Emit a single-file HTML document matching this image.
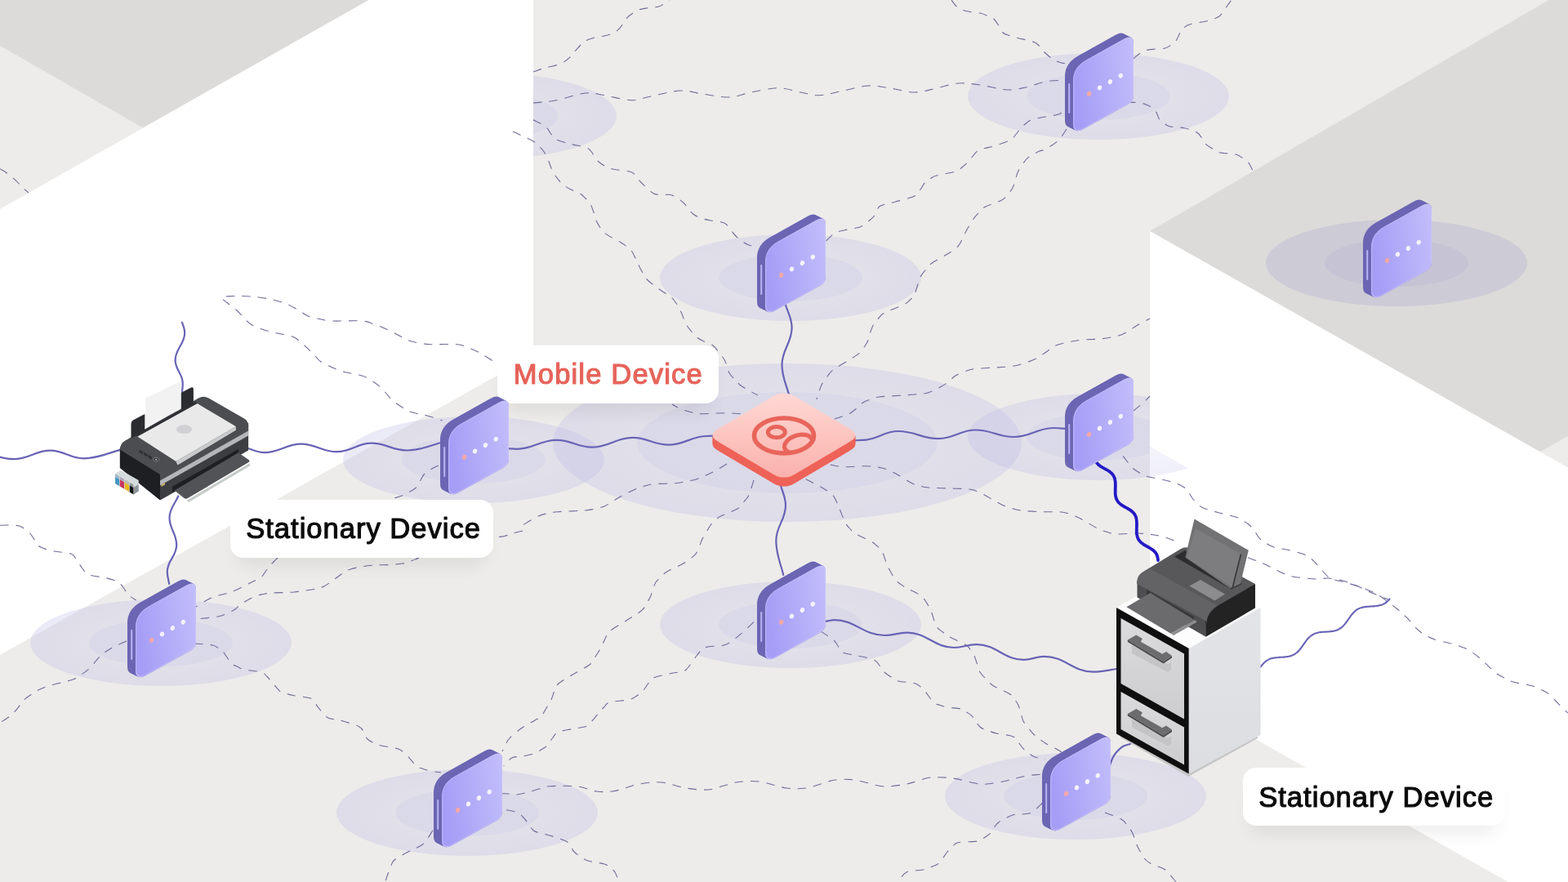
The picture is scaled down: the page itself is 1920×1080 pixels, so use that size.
<!DOCTYPE html>
<html lang="en"><head><meta charset="utf-8"><title>Mobile and Stationary Devices</title>
<style>
html,body{margin:0;padding:0;background:#edecea;overflow:hidden}
body{width:1920px;height:1080px}
svg{display:block;font-family:"Liberation Sans",sans-serif}
</style></head><body>
<svg width="1920" height="1080" viewBox="0 0 1920 1080">
<defs>
<linearGradient id="face" x1="0" y1=".15" x2="1" y2="0"><stop offset="0" stop-color="#a59df6"/><stop offset="1" stop-color="#c3befb"/></linearGradient>
<linearGradient id="tile" x1="0" y1="0" x2="0" y2="1"><stop offset="0" stop-color="#ffd8d4"/><stop offset="1" stop-color="#fab1ac"/></linearGradient>
<radialGradient id="ringO"><stop offset="0" stop-color="#bfbce6" stop-opacity=".25"/><stop offset=".55" stop-color="#bfbce6" stop-opacity=".25"/><stop offset="1" stop-color="#bfbce6" stop-opacity=".33"/></radialGradient>
<radialGradient id="ringI"><stop offset="0" stop-color="#bfbee6" stop-opacity=".2"/><stop offset="1" stop-color="#bfbee6" stop-opacity=".2"/></radialGradient>
<linearGradient id="cabR" x1="0" y1="0" x2="0" y2="1"><stop offset="0" stop-color="#e3e4e7"/><stop offset="1" stop-color="#dcdde0"/></linearGradient>
<linearGradient id="drw" x1="0" y1="0" x2="0" y2="1"><stop offset="0" stop-color="#dbdbdd"/><stop offset="1" stop-color="#cdcdcf"/></linearGradient>
<clipPath id="cLeftTop"><rect x="653" y="0" width="400" height="400"/></clipPath>
<clipPath id="cRightMid"><rect x="1100" y="400" width="308" height="300"/></clipPath>
<clipPath id="cRightWedge"><polygon points="1408,546.700 1500,598.800 1500,700 1408,700"/></clipPath>
<clipPath id="iconclip"><ellipse cx="960" cy="533.5" rx="38" ry="23"/></clipPath>
<filter id="sh" x="-20%" y="-60%" width="140%" height="260%"><feGaussianBlur stdDeviation="10.5"/></filter>
</defs>
<rect width="1920" height="1080" fill="#edecea"/>
<polygon points="0,0 452,0 175,156.4 0,56.1" fill="#dcdbda"/>
<polygon points="451.5,0 653,0 653,435 0,802 0,256" fill="#fff"/>
<polygon points="1408,283 1896.5,0 1920,0 1920,573" fill="#dcdbda"/>
<polygon points="1886.3,553 1920,534 1920,573" fill="#edecea"/>
<polygon points="1408,283 1920,572.4 1920,1080 1846.7,1080 1408,832" fill="#fff"/>
<g clip-path="url(#cLeftTop)"><ellipse cx="595" cy="142" rx="160" ry="53" fill="url(#ringO)"/><ellipse cx="595" cy="142" rx="88" ry="29" fill="url(#ringI)"/></g>
<g><ellipse cx="1345" cy="118" rx="160" ry="53" fill="url(#ringO)"/><ellipse cx="1345" cy="118" rx="88" ry="29" fill="url(#ringI)"/></g>
<g><ellipse cx="968" cy="340" rx="160" ry="53" fill="url(#ringO)"/><ellipse cx="968" cy="340" rx="88" ry="29" fill="url(#ringI)"/></g>
<g><ellipse cx="1710" cy="322" rx="160" ry="53" fill="#a8a5cc" fill-opacity=".3"/><ellipse cx="1710" cy="322" rx="88" ry="29" fill="#a8a5cc" fill-opacity=".2"/></g>
<g><ellipse cx="580" cy="563" rx="160" ry="53" fill="url(#ringO)"/><ellipse cx="580" cy="563" rx="88" ry="29" fill="url(#ringI)"/></g>
<g clip-path="url(#cRightMid)"><ellipse cx="1345" cy="535" rx="160" ry="53" fill="url(#ringO)"/><ellipse cx="1345" cy="535" rx="88" ry="29" fill="url(#ringI)"/></g>
<g clip-path="url(#cRightWedge)" opacity=".7"><ellipse cx="1345" cy="535" rx="160" ry="53" fill="url(#ringO)"/></g>
<g><ellipse cx="197" cy="787" rx="160" ry="53" fill="url(#ringO)"/><ellipse cx="197" cy="787" rx="88" ry="29" fill="url(#ringI)"/></g>
<g><ellipse cx="968" cy="765" rx="160" ry="53" fill="url(#ringO)"/><ellipse cx="968" cy="765" rx="88" ry="29" fill="url(#ringI)"/></g>
<g><ellipse cx="572" cy="995" rx="160" ry="53" fill="url(#ringO)"/><ellipse cx="572" cy="995" rx="88" ry="29" fill="url(#ringI)"/></g>
<g><ellipse cx="1317" cy="975" rx="160" ry="53" fill="url(#ringO)"/><ellipse cx="1317" cy="975" rx="88" ry="29" fill="url(#ringI)"/></g>
<g><ellipse cx="964" cy="542" rx="287" ry="97" fill="url(#ringO)"/><ellipse cx="964" cy="542" rx="184" ry="62" fill="url(#ringI)"/></g>
<g fill="none" stroke="#6f6c98" stroke-width="1.1" stroke-dasharray="10.5 9">
<path d="M0.0,206.7 C1.7,207.8 6.7,210.5 10.0,213.0 C13.3,215.5 17.0,218.9 20.0,221.7 C23.0,224.5 25.5,227.6 28.0,230.0 C30.5,232.4 33.8,235.0 35.0,236.0"/>
<path d="M653.0,88.0 C655.5,87.2 662.4,84.7 668.0,83.0 C673.6,81.3 681.7,80.2 686.7,78.0 C691.7,75.8 695.0,72.7 698.0,70.0 C701.0,67.3 702.8,64.2 705.0,61.7 C707.2,59.2 709.0,57.0 711.0,55.0 C713.0,53.0 713.9,51.5 716.7,50.0 C719.5,48.5 724.1,47.0 728.0,46.0 C731.9,45.0 736.3,44.8 740.0,44.0 C743.7,43.2 747.2,42.2 750.0,41.0 C752.8,39.8 754.5,38.7 756.7,36.7 C758.9,34.7 761.1,31.5 763.0,29.0 C764.9,26.5 766.0,23.9 768.0,21.7 C770.0,19.5 772.5,17.7 775.0,16.0 C777.5,14.3 779.7,12.8 783.0,11.7 C786.3,10.6 791.0,10.1 795.0,9.5 C799.0,8.9 803.5,8.9 806.7,8.0 C809.9,7.1 811.8,5.3 814.0,4.0 C816.2,2.7 819.0,0.7 820.0,0.0"/>
<path d="M653.0,126.0 C657.5,125.5 669.4,125.0 680.0,123.0 C690.6,121.0 706.7,115.0 716.7,114.0 C726.7,113.0 730.6,115.2 740.0,116.7 C749.4,118.2 763.5,122.5 773.0,122.7 C782.5,122.9 786.7,120.0 796.7,118.0 C806.7,116.0 822.5,111.5 833.0,111.0 C843.5,110.5 850.0,113.7 860.0,115.0 C870.0,116.3 883.0,119.3 893.0,119.0 C903.0,118.7 910.0,114.9 920.0,113.0 C930.0,111.1 943.0,107.7 953.0,107.7 C963.0,107.7 971.7,111.5 980.0,113.0 C988.3,114.5 994.7,116.9 1003.0,116.7 C1011.3,116.5 1020.0,113.7 1030.0,111.7 C1040.0,109.8 1053.0,105.6 1063.0,105.0 C1073.0,104.4 1080.5,106.7 1090.0,108.0 C1099.5,109.3 1110.5,113.0 1120.0,113.0 C1129.5,113.0 1137.9,109.8 1146.7,108.0 C1155.5,106.2 1164.1,102.7 1173.0,102.0 C1181.9,101.3 1190.0,102.7 1200.0,104.0 C1210.0,105.3 1223.5,109.5 1233.0,110.0 C1242.5,110.5 1248.9,108.4 1256.7,106.7 C1264.5,105.0 1272.0,101.5 1280.0,100.0 C1288.0,98.5 1300.8,98.3 1305.0,98.0"/>
<path d="M653.0,146.7 C655.5,148.1 664.5,152.3 668.0,155.0 C671.5,157.7 672.0,160.5 674.0,163.0 C676.0,165.5 677.3,168.2 680.0,170.0 C682.7,171.8 686.7,172.9 690.0,174.0 C693.3,175.1 695.0,175.4 700.0,176.7 C705.0,178.0 715.5,179.5 720.0,181.7 C724.5,183.9 724.8,187.3 727.0,190.0 C729.2,192.7 730.7,195.8 733.0,198.0 C735.3,200.2 738.2,202.0 741.0,203.5 C743.8,205.0 744.7,205.8 750.0,207.0 C755.3,208.2 768.0,208.9 773.0,210.7 C778.0,212.5 777.7,215.6 780.0,218.0 C782.3,220.4 783.4,221.9 786.7,225.0 C790.0,228.1 796.0,234.4 800.0,236.7 C804.0,238.9 807.2,238.1 811.0,238.5 C814.8,238.9 818.7,237.4 823.0,239.0 C827.3,240.6 833.4,245.2 836.7,248.0 C840.0,250.8 840.8,253.5 843.0,256.0 C845.2,258.5 847.2,261.1 850.0,263.0 C852.8,264.9 856.7,266.3 860.0,267.5 C863.3,268.7 865.5,269.1 870.0,270.0 C874.5,270.9 882.7,271.2 886.7,273.0 C890.7,274.8 891.8,278.0 894.0,280.5 C896.2,283.0 897.7,285.6 900.0,288.0 C902.3,290.4 905.2,293.0 908.0,295.0 C910.8,297.0 913.5,298.8 916.7,300.0 C919.9,301.2 925.3,301.7 927.0,302.0"/>
<path d="M628.0,161.0 C630.0,161.9 635.8,164.7 640.0,166.7 C644.2,168.7 649.7,170.9 653.0,173.0 C656.3,175.1 657.7,176.7 660.0,179.0 C662.3,181.3 664.7,183.5 666.7,186.7 C668.7,189.9 670.3,194.1 672.0,198.0 C673.7,201.9 674.9,206.5 676.7,210.0 C678.5,213.5 680.8,216.2 683.0,219.0 C685.2,221.8 687.2,224.4 690.0,226.7 C692.8,228.9 696.7,230.8 700.0,232.5 C703.3,234.2 707.2,234.9 710.0,236.7 C712.8,238.4 714.8,240.8 717.0,243.0 C719.2,245.2 721.3,247.2 723.0,250.0 C724.7,252.8 725.8,256.7 727.0,260.0 C728.2,263.3 728.8,267.0 730.0,270.0 C731.2,273.0 732.8,275.5 734.5,278.0 C736.2,280.5 737.4,282.8 740.0,285.0 C742.6,287.2 746.7,289.6 750.0,291.5 C753.3,293.4 757.2,295.0 760.0,296.7 C762.8,298.4 764.8,299.8 767.0,301.5 C769.2,303.2 771.1,304.1 773.0,306.7 C774.9,309.3 776.8,313.7 778.5,317.0 C780.2,320.3 781.4,323.6 783.0,326.7 C784.6,329.8 786.3,332.8 788.0,335.5 C789.7,338.2 790.5,340.4 793.0,343.0 C795.5,345.6 799.7,348.5 803.0,351.0 C806.3,353.5 810.2,356.2 813.0,358.0 C815.8,359.8 817.7,359.7 820.0,361.7 C822.3,363.7 824.8,366.9 827.0,370.0 C829.2,373.1 830.8,375.6 833.0,380.0 C835.2,384.4 837.8,392.5 840.0,396.7 C842.2,400.9 843.8,402.3 846.0,405.0 C848.2,407.7 850.2,410.8 853.0,413.0 C855.8,415.2 859.7,416.8 863.0,418.5 C866.3,420.2 870.2,420.9 873.0,423.0 C875.8,425.1 877.7,428.2 880.0,431.0 C882.3,433.8 885.0,437.2 886.7,440.0 C888.4,442.8 889.0,445.2 890.0,448.0 C891.0,450.8 891.4,453.9 893.0,456.7 C894.6,459.4 897.2,462.0 899.5,464.5 C901.8,467.0 903.8,469.4 906.7,471.7 C909.6,473.9 913.5,475.9 917.0,478.0 C920.5,480.1 926.2,483.0 928.0,484.0"/>
<path d="M1165.0,0.0 C1165.8,1.1 1168.0,4.5 1170.0,6.5 C1172.0,8.4 1173.7,10.4 1176.7,11.7 C1179.7,13.0 1184.1,13.8 1188.0,14.5 C1191.9,15.2 1196.6,15.2 1200.0,16.0 C1203.4,16.8 1205.7,17.8 1208.5,19.0 C1211.3,20.2 1214.3,20.9 1216.7,23.0 C1219.1,25.1 1221.1,28.7 1223.0,31.5 C1224.9,34.3 1225.7,37.9 1228.0,40.0 C1230.3,42.1 1233.9,42.9 1237.0,44.0 C1240.1,45.1 1241.8,45.4 1246.7,46.7 C1251.7,48.0 1262.2,49.8 1266.7,51.7 C1271.2,53.6 1271.8,55.8 1274.0,58.0 C1276.2,60.2 1277.3,62.5 1280.0,65.0 C1282.7,67.5 1286.7,71.0 1290.0,73.0 C1293.3,75.0 1296.2,76.0 1300.0,77.0 C1303.8,78.0 1310.8,78.7 1313.0,79.0"/>
<path d="M1011.7,295.0 C1013.6,293.3 1018.6,287.3 1023.0,285.0 C1027.4,282.7 1033.0,282.2 1038.0,281.0 C1043.0,279.8 1049.0,279.5 1053.0,278.0 C1057.0,276.5 1059.2,274.2 1062.0,272.0 C1064.8,269.8 1067.5,268.2 1070.0,265.0 C1072.5,261.8 1074.0,255.6 1076.7,253.0 C1079.4,250.4 1082.7,250.5 1086.0,249.5 C1089.3,248.5 1091.0,248.6 1096.7,247.0 C1102.4,245.4 1115.0,242.5 1120.0,240.0 C1125.0,237.5 1124.8,234.8 1127.0,232.0 C1129.2,229.2 1130.9,225.2 1133.0,223.0 C1135.1,220.8 1137.2,219.8 1139.5,218.5 C1141.8,217.2 1141.6,216.4 1146.7,215.0 C1151.8,213.6 1164.6,211.8 1170.0,210.0 C1175.4,208.2 1176.2,206.2 1179.0,204.0 C1181.8,201.8 1183.8,199.9 1186.7,196.7 C1189.7,193.5 1193.5,187.5 1196.7,185.0 C1199.9,182.5 1202.7,182.5 1206.0,181.5 C1209.3,180.5 1211.6,180.6 1216.7,179.0 C1221.8,177.4 1232.2,174.1 1236.7,171.7 C1241.2,169.3 1241.8,167.0 1244.0,164.5 C1246.2,162.0 1247.9,158.9 1250.0,156.7 C1252.1,154.4 1254.3,152.7 1256.5,151.0 C1258.7,149.3 1259.1,148.0 1263.0,146.7 C1266.9,145.4 1274.5,144.1 1280.0,143.0 C1285.5,141.9 1291.7,141.5 1296.0,140.0 C1300.3,138.5 1304.3,135.0 1306.0,134.0"/>
<path d="M1306.0,158.0 C1304.3,160.3 1300.3,167.9 1296.0,172.0 C1291.7,176.1 1283.8,180.5 1280.0,182.7 C1276.2,184.9 1275.6,183.9 1273.0,185.0 C1270.4,186.1 1267.2,187.8 1264.5,189.5 C1261.8,191.2 1259.7,191.6 1256.7,195.0 C1253.7,198.4 1248.9,205.8 1246.7,210.0 C1244.5,214.2 1244.6,216.7 1243.5,220.0 C1242.4,223.3 1241.6,227.0 1240.0,230.0 C1238.4,233.0 1236.2,235.5 1234.0,238.0 C1231.8,240.5 1231.2,242.5 1226.7,245.0 C1222.2,247.5 1211.2,250.6 1206.7,253.0 C1202.2,255.4 1201.8,257.2 1199.5,259.5 C1197.2,261.8 1195.8,262.8 1193.0,266.7 C1190.2,270.6 1185.4,278.7 1183.0,283.0 C1180.6,287.3 1180.2,289.4 1178.5,292.5 C1176.8,295.6 1175.2,299.1 1173.0,301.7 C1170.8,304.3 1167.7,306.1 1165.0,308.0 C1162.3,309.9 1160.9,310.5 1156.7,313.0 C1152.5,315.5 1144.0,320.0 1140.0,323.0 C1136.0,326.0 1135.2,328.2 1133.0,331.0 C1130.8,333.8 1128.9,335.2 1126.7,340.0 C1124.5,344.8 1122.1,355.4 1120.0,360.0 C1117.9,364.6 1116.2,365.3 1114.0,367.5 C1111.8,369.7 1111.9,370.4 1106.7,373.0 C1101.5,375.6 1088.1,380.2 1083.0,383.0 C1077.9,385.8 1078.2,387.2 1076.0,389.5 C1073.8,391.8 1071.7,393.9 1070.0,396.7 C1068.3,399.4 1067.2,402.7 1066.0,406.0 C1064.8,409.3 1064.2,413.6 1063.0,416.7 C1061.8,419.8 1060.2,422.0 1058.5,424.5 C1056.8,427.0 1055.2,429.5 1053.0,431.7 C1050.8,433.9 1047.7,435.7 1045.0,437.5 C1042.3,439.3 1040.9,440.1 1036.7,442.7 C1032.5,445.3 1024.0,449.9 1020.0,453.0 C1016.0,456.1 1015.2,458.2 1013.0,461.0 C1010.8,463.8 1008.4,467.0 1006.7,470.0 C1005.0,473.0 1004.1,475.8 1003.0,479.0 C1001.9,482.2 1000.5,487.3 1000.0,489.0"/>
<path d="M1388.0,71.7 C1389.2,70.8 1392.5,67.7 1395.0,66.0 C1397.5,64.3 1399.7,62.7 1403.0,61.7 C1406.3,60.7 1411.0,60.5 1415.0,60.0 C1419.0,59.5 1423.5,59.8 1426.7,59.0 C1429.9,58.2 1431.8,56.5 1434.0,55.0 C1436.2,53.5 1437.9,53.0 1440.0,50.0 C1442.1,47.0 1444.9,39.5 1446.7,36.7 C1448.5,33.9 1449.3,34.1 1451.0,33.0 C1452.7,31.9 1452.4,31.2 1456.7,30.0 C1461.0,28.8 1472.0,27.1 1476.7,26.0 C1481.4,24.9 1482.3,24.5 1485.0,23.5 C1487.7,22.5 1490.8,21.7 1493.0,20.0 C1495.2,18.3 1496.8,15.7 1498.5,13.5 C1500.2,11.3 1501.4,8.9 1503.0,6.7 C1504.6,4.5 1507.2,1.1 1508.0,0.0"/>
<path d="M1380.0,125.0 C1382.8,125.2 1392.5,125.3 1396.7,126.0 C1401.0,126.7 1402.8,127.8 1405.5,129.0 C1408.2,130.2 1411.1,131.2 1413.0,133.0 C1414.9,134.8 1415.8,137.7 1417.0,140.0 C1418.2,142.3 1418.5,144.8 1420.0,146.7 C1421.5,148.6 1423.8,150.1 1426.0,151.5 C1428.2,152.9 1429.0,154.1 1433.0,155.0 C1437.0,155.9 1445.8,155.9 1450.0,156.7 C1454.2,157.4 1455.7,158.4 1458.5,159.5 C1461.3,160.6 1464.5,161.3 1466.7,163.0 C1469.0,164.7 1470.3,167.2 1472.0,169.5 C1473.7,171.8 1474.6,174.6 1476.7,176.7 C1478.8,178.8 1481.8,180.3 1484.5,182.0 C1487.2,183.7 1488.2,185.5 1493.0,186.7 C1497.8,187.9 1508.5,188.0 1513.0,189.0 C1517.5,190.0 1517.7,191.2 1520.0,192.5 C1522.3,193.8 1525.0,195.1 1526.7,196.7 C1528.5,198.3 1529.3,199.9 1530.5,202.0 C1531.7,204.1 1533.4,207.8 1534.0,209.0"/>
<path d="M276.7,363.0 C279.9,362.9 289.3,362.3 296.0,362.5 C302.7,362.7 310.4,363.2 316.7,364.0 C323.0,364.8 328.4,365.7 334.0,367.0 C339.6,368.3 345.0,369.7 350.0,371.7 C355.0,373.7 359.6,376.5 364.0,379.0 C368.4,381.5 372.2,384.8 376.7,386.7 C381.2,388.6 386.0,389.4 391.0,390.5 C396.0,391.6 398.0,392.6 406.7,393.0 C415.4,393.4 434.4,392.3 443.0,393.0 C451.6,393.7 453.0,395.3 458.0,397.0 C463.0,398.7 468.2,400.8 473.0,403.0 C477.8,405.2 482.5,407.7 487.0,410.0 C491.5,412.3 495.7,415.0 500.0,416.7 C504.3,418.4 508.6,419.2 513.0,420.0 C517.5,420.8 518.9,421.4 526.7,421.7 C534.5,422.0 552.1,421.0 560.0,421.7 C567.9,422.4 569.5,424.3 574.0,426.0 C578.5,427.7 581.9,429.1 586.7,431.7 C591.5,434.3 599.3,439.3 603.0,441.7 C606.7,444.1 608.0,445.3 609.0,446.0"/>
<path d="M273.0,366.7 C274.3,367.8 278.2,370.8 281.0,373.0 C283.8,375.2 287.2,377.4 290.0,380.0 C292.8,382.6 295.2,385.7 298.0,388.5 C300.8,391.3 303.2,394.4 306.7,396.7 C310.2,399.0 314.6,400.8 319.0,402.5 C323.4,404.2 328.3,405.5 333.0,406.7 C337.7,407.9 342.5,408.4 347.0,409.5 C351.5,410.6 356.3,411.3 360.0,413.0 C363.7,414.7 366.2,417.2 369.0,419.5 C371.8,421.8 374.0,424.1 376.7,426.7 C379.4,429.3 382.3,432.3 385.0,435.0 C387.7,437.7 389.5,440.6 393.0,443.0 C396.5,445.4 401.5,447.5 406.0,449.5 C410.5,451.5 413.8,453.2 420.0,455.0 C426.2,456.8 437.4,458.3 443.0,460.0 C448.6,461.7 450.2,463.1 453.5,465.0 C456.8,466.9 459.9,469.1 463.0,471.7 C466.1,474.3 469.2,477.4 472.0,480.5 C474.8,483.6 477.0,487.2 480.0,490.0 C483.0,492.8 486.7,494.8 490.0,497.0 C493.3,499.2 496.5,501.4 500.0,503.0 C503.5,504.6 507.2,505.5 511.0,506.5 C514.8,507.5 517.9,507.6 523.0,509.0 C528.1,510.4 538.6,514.0 541.7,515.0"/>
<path d="M0.0,643.3 C2.0,643.2 8.1,642.9 12.0,643.0 C15.9,643.1 20.2,643.2 23.3,644.0 C26.4,644.8 28.3,646.5 30.5,648.0 C32.7,649.5 34.8,650.9 36.7,653.0 C38.6,655.1 40.3,658.0 42.0,660.5 C43.7,663.0 44.4,666.0 46.7,668.0 C49.0,670.0 52.7,671.3 56.0,672.5 C59.3,673.7 61.6,674.1 66.7,675.0 C71.8,675.9 82.4,676.6 86.7,678.0 C91.0,679.4 90.8,681.5 92.5,683.5 C94.2,685.5 95.2,687.8 96.7,690.0 C98.2,692.2 99.8,694.8 101.5,697.0 C103.2,699.2 104.3,701.6 106.7,703.0 C109.1,704.4 112.7,704.8 116.0,705.5 C119.3,706.2 122.2,706.0 126.7,707.0 C131.2,708.0 139.1,709.9 143.0,711.7 C146.9,713.5 147.7,715.3 150.0,718.0 C152.3,720.7 153.9,725.2 156.7,728.0 C159.5,730.8 165.0,733.8 166.7,735.0"/>
<path d="M536.7,570.0 C535.2,570.8 530.8,572.8 528.0,574.5 C525.2,576.2 522.2,577.8 520.0,580.0 C517.8,582.2 516.7,585.2 515.0,588.0 C513.3,590.8 512.2,594.4 510.0,596.7 C507.8,599.0 504.8,600.3 502.0,602.0 C499.2,603.7 496.7,605.2 493.0,606.7 C489.3,608.2 482.2,610.0 480.0,610.7"/>
<path d="M340.0,683.0 C339.2,683.8 336.7,686.3 335.0,688.0 C333.3,689.7 331.7,691.0 330.0,693.0 C328.3,695.0 326.7,697.7 325.0,700.0 C323.3,702.3 322.5,704.7 320.0,706.7 C317.5,708.7 313.3,710.3 310.0,712.0 C306.7,713.7 304.5,714.8 300.0,717.0 C295.5,719.2 288.0,723.1 283.0,725.0 C278.0,726.9 274.4,727.2 270.0,728.5 C265.6,729.8 261.7,730.6 256.7,733.0 C251.7,735.4 242.8,741.3 240.0,743.0"/>
<path d="M640.0,650.0 C638.0,650.5 631.9,651.9 628.0,653.0 C624.1,654.1 620.9,655.9 616.7,656.7 C612.5,657.5 605.3,657.8 603.0,658.0"/>
<path d="M513.0,683.0 C511.3,683.7 506.3,685.8 503.0,687.0 C499.7,688.2 497.3,689.2 493.0,690.0 C488.7,690.8 482.5,691.2 477.0,691.5 C471.5,691.8 465.3,691.7 460.0,692.0 C454.7,692.3 450.0,692.7 445.0,693.5 C440.0,694.3 434.0,695.5 430.0,696.7 C426.0,698.0 423.8,699.3 421.0,701.0 C418.2,702.7 415.8,704.7 413.0,706.7 C410.2,708.7 407.2,711.1 404.5,713.0 C401.8,714.9 399.1,716.8 396.7,718.0 C394.3,719.2 392.3,719.4 390.0,720.0 C387.7,720.6 388.0,720.9 383.0,721.7 C378.0,722.5 368.3,724.3 360.0,725.0 C351.7,725.7 339.2,725.6 333.0,726.0 C326.8,726.4 325.8,726.8 322.5,727.5 C319.2,728.2 316.8,728.5 313.0,730.0 C309.2,731.5 303.3,734.8 300.0,736.7 C296.7,738.6 295.2,739.8 293.0,741.5 C290.8,743.2 289.4,745.0 286.7,746.7 C284.0,748.4 280.3,750.1 277.0,751.5 C273.7,752.9 272.9,753.9 266.7,755.0 C260.5,756.1 244.4,757.5 240.0,758.0"/>
<path d="M1021.7,513.0 C1023.2,512.5 1028.0,511.1 1031.0,510.0 C1034.0,508.9 1037.0,508.4 1040.0,506.7 C1043.0,505.0 1046.2,502.3 1049.0,500.0 C1051.8,497.7 1053.9,494.8 1056.7,493.0 C1059.5,491.2 1062.7,490.2 1066.0,489.0 C1069.3,487.8 1069.9,486.8 1076.7,486.0 C1083.5,485.2 1099.5,484.5 1106.7,484.0 C1113.9,483.5 1115.6,483.4 1120.0,483.0 C1124.4,482.6 1129.1,482.5 1133.0,481.7 C1136.9,480.9 1140.2,479.4 1143.5,478.0 C1146.8,476.6 1149.9,474.8 1153.0,473.0 C1156.1,471.2 1159.2,469.2 1162.0,467.0 C1164.8,464.8 1166.8,462.0 1170.0,460.0 C1173.2,458.0 1177.2,456.4 1181.0,455.0 C1184.8,453.6 1186.5,452.5 1193.0,451.7 C1199.5,450.9 1213.2,450.4 1220.0,450.0 C1226.8,449.6 1229.0,449.5 1233.5,449.0 C1238.0,448.5 1241.2,448.5 1246.7,447.0 C1252.2,445.5 1261.2,442.6 1266.7,440.0 C1272.2,437.4 1276.5,434.0 1280.0,431.7 C1283.5,429.4 1285.2,427.7 1288.0,426.0 C1290.8,424.3 1291.4,423.2 1296.7,421.7 C1302.0,420.1 1311.7,417.8 1320.0,416.7 C1328.3,415.6 1340.0,415.6 1346.7,415.0 C1353.4,414.4 1355.6,413.8 1360.0,413.0 C1364.4,412.2 1369.2,411.4 1373.0,410.0 C1376.8,408.6 1379.7,406.5 1383.0,404.5 C1386.3,402.5 1388.8,400.4 1393.0,398.0 C1397.2,395.6 1405.5,391.3 1408.0,390.0"/>
<path d="M906.7,506.7 C903.4,506.5 894.5,505.7 886.7,505.7 C878.9,505.7 866.2,506.7 860.0,506.7 C853.8,506.7 852.8,506.1 849.5,505.5 C846.2,504.9 843.1,504.0 840.0,503.0 C836.9,502.0 833.8,500.8 831.0,499.5 C828.2,498.2 824.3,495.8 823.0,495.0"/>
<path d="M890.0,568.0 C887.2,569.7 877.5,575.6 873.0,578.0 C868.5,580.4 866.3,581.0 863.0,582.5 C859.7,584.0 856.8,585.5 853.0,586.7 C849.2,587.9 844.4,588.7 840.0,589.5 C835.6,590.3 833.4,591.2 826.7,591.7 C820.0,592.2 806.1,592.2 800.0,592.7 C793.9,593.2 793.3,594.1 790.0,595.0 C786.7,595.9 785.0,595.8 780.0,598.0 C775.0,600.2 765.0,605.3 760.0,608.0 C755.0,610.7 753.3,612.0 750.0,614.0 C746.7,616.0 743.6,618.5 740.0,620.0 C736.4,621.5 732.4,622.2 728.5,623.0 C724.6,623.8 724.3,624.4 716.7,625.0 C709.1,625.6 690.5,626.1 683.0,626.7 C675.5,627.3 675.3,627.7 671.5,628.5 C667.7,629.3 665.2,629.3 660.0,631.7 C654.8,634.1 643.3,641.1 640.0,643.0"/>
<path d="M923.0,588.0 C922.5,589.6 921.0,594.4 920.0,597.5 C919.0,600.6 918.3,603.8 916.7,606.7 C915.1,609.6 912.8,612.3 910.5,615.0 C908.2,617.7 907.6,620.2 903.0,623.0 C898.4,625.8 887.5,629.4 883.0,631.7 C878.5,634.0 878.2,635.1 876.0,637.0 C873.8,638.9 871.8,640.6 870.0,643.0 C868.2,645.4 866.7,648.7 865.0,651.5 C863.3,654.3 862.0,655.8 860.0,660.0 C858.0,664.2 855.4,672.7 853.0,676.7 C850.6,680.7 848.2,681.8 845.5,684.0 C842.8,686.2 841.5,687.3 836.7,690.0 C831.9,692.7 821.2,697.3 816.7,700.0 C812.2,702.7 811.8,703.8 809.5,706.0 C807.2,708.2 804.6,710.7 803.0,713.0 C801.4,715.3 801.0,717.2 800.0,720.0 C799.0,722.8 798.0,726.9 796.7,730.0 C795.4,733.1 793.7,735.7 792.0,738.5 C790.3,741.3 789.2,744.2 786.7,746.7 C784.2,749.2 780.3,751.3 777.0,753.5 C773.7,755.7 771.8,756.8 766.7,760.0 C761.7,763.2 751.0,769.3 746.7,773.0 C742.4,776.7 742.7,778.9 741.0,782.0 C739.3,785.1 738.5,788.3 736.7,791.7 C734.9,795.1 732.3,799.0 730.0,802.5 C727.7,806.0 726.0,810.1 723.0,813.0 C720.0,815.9 715.8,817.7 712.0,820.0 C708.2,822.3 704.8,823.7 700.0,826.7 C695.2,829.7 686.6,834.6 683.0,838.0 C679.4,841.4 679.8,843.9 678.5,847.0 C677.2,850.1 676.6,853.4 675.0,856.7 C673.4,860.0 671.0,863.7 669.0,867.0 C667.0,870.3 665.3,874.2 663.0,876.7 C660.7,879.2 657.7,880.3 655.0,882.0 C652.3,883.7 649.8,884.9 646.7,886.7 C643.7,888.5 640.7,890.0 636.7,893.0 C632.8,896.0 626.6,900.5 623.0,905.0 C619.4,909.5 616.3,917.5 615.0,920.0"/>
<path d="M986.7,586.7 C989.4,588.1 998.8,592.7 1003.0,595.0 C1007.2,597.3 1009.2,598.5 1012.0,600.5 C1014.8,602.5 1017.9,604.4 1020.0,606.7 C1022.1,609.0 1023.2,611.8 1024.5,614.5 C1025.8,617.2 1026.2,618.8 1028.0,623.0 C1029.8,627.2 1032.9,636.0 1035.0,640.0 C1037.1,644.0 1038.5,644.8 1040.5,647.0 C1042.5,649.2 1042.3,650.3 1046.7,653.0 C1051.1,655.7 1062.2,660.4 1066.7,663.0 C1071.2,665.6 1071.8,666.5 1074.0,668.5 C1076.2,670.5 1078.4,672.4 1080.0,675.0 C1081.6,677.6 1082.4,681.0 1083.5,684.0 C1084.6,687.0 1084.5,688.7 1086.7,693.0 C1088.9,697.3 1093.4,705.8 1096.7,710.0 C1100.0,714.2 1104.0,716.0 1106.7,718.0 C1109.4,720.0 1110.5,720.4 1113.0,721.7 C1115.5,723.0 1119.2,724.3 1122.0,726.0 C1124.8,727.7 1127.8,729.5 1130.0,731.7 C1132.2,734.0 1133.8,736.8 1135.5,739.5 C1137.2,742.2 1138.1,743.5 1140.0,748.0 C1141.9,752.5 1144.3,762.4 1146.7,766.7 C1149.1,771.0 1151.8,771.8 1154.5,774.0 C1157.2,776.2 1158.2,777.3 1163.0,780.0 C1167.8,782.7 1178.8,787.3 1183.0,790.0 C1187.2,792.7 1186.8,793.8 1188.5,796.0 C1190.2,798.2 1191.7,800.2 1193.0,803.0 C1194.3,805.8 1195.3,809.7 1196.5,813.0 C1197.7,816.3 1198.1,819.8 1200.0,823.0 C1201.9,826.2 1205.2,829.2 1208.0,832.0 C1210.8,834.8 1211.9,837.0 1216.7,840.0 C1221.5,843.0 1232.5,847.3 1236.7,850.0 C1240.9,852.7 1240.3,853.8 1242.0,856.0 C1243.7,858.2 1245.4,860.2 1246.7,863.0 C1248.0,865.8 1249.0,869.7 1250.0,873.0 C1251.0,876.3 1251.4,879.8 1253.0,883.0 C1254.6,886.2 1257.2,889.2 1259.5,892.0 C1261.8,894.8 1263.3,897.0 1266.7,900.0 C1270.1,903.0 1275.6,907.2 1280.0,910.0 C1284.4,912.8 1289.7,914.9 1293.0,916.7 C1296.3,918.5 1298.8,920.3 1300.0,921.0"/>
<path d="M1016.7,569.0 C1019.4,569.5 1025.8,571.4 1033.0,571.7 C1040.2,572.0 1052.2,570.5 1060.0,570.7 C1067.8,570.9 1074.9,572.0 1080.0,573.0 C1085.1,574.0 1087.2,575.5 1090.5,577.0 C1093.8,578.5 1095.6,579.2 1100.0,581.7 C1104.4,584.2 1112.3,589.5 1116.7,591.7 C1121.1,593.9 1123.2,594.1 1126.5,595.0 C1129.8,595.9 1130.6,596.5 1136.7,597.0 C1142.8,597.5 1154.7,597.7 1163.0,598.0 C1171.3,598.3 1181.0,598.3 1186.7,599.0 C1192.4,599.7 1193.7,600.7 1197.0,602.0 C1200.3,603.3 1201.8,604.0 1206.7,606.7 C1211.7,609.4 1221.5,615.5 1226.7,618.0 C1231.9,620.5 1234.1,620.8 1238.0,622.0 C1241.9,623.2 1244.2,624.2 1250.0,625.0 C1255.8,625.8 1264.7,626.4 1273.0,626.7 C1281.3,627.0 1293.5,626.4 1300.0,627.0 C1306.5,627.6 1308.2,629.2 1312.0,630.5 C1315.8,631.8 1317.8,632.3 1323.0,635.0 C1328.2,637.7 1337.8,644.0 1343.0,646.7 C1348.2,649.4 1350.5,649.8 1354.5,651.0 C1358.5,652.2 1360.3,653.7 1366.7,654.0 C1373.1,654.3 1385.3,652.8 1393.0,653.0 C1400.7,653.2 1407.7,654.2 1413.0,655.0 C1418.3,655.8 1421.0,656.4 1425.0,657.5 C1429.0,658.6 1433.4,660.1 1436.7,661.7 C1440.0,663.3 1443.6,666.1 1445.0,667.0"/>
<path d="M1528.0,682.7 C1531.1,683.9 1540.2,687.1 1546.7,690.0 C1553.2,692.9 1561.7,697.7 1566.7,700.0 C1571.7,702.3 1573.2,702.9 1576.5,704.0 C1579.8,705.1 1580.6,705.9 1586.7,706.7 C1592.8,707.5 1606.3,708.8 1613.0,709.0 C1619.7,709.2 1621.1,707.5 1626.7,708.0 C1632.3,708.5 1640.7,710.0 1646.7,711.7 C1652.8,713.4 1657.5,715.6 1663.0,718.0 C1668.5,720.4 1673.8,723.3 1680.0,726.0 C1686.2,728.7 1696.7,732.7 1700.0,734.0"/>
<path d="M1388.0,503.0 C1390.0,501.3 1396.7,496.0 1400.0,493.0 C1403.3,490.0 1406.7,486.3 1408.0,485.0"/>
<path d="M1375.0,558.3 C1376.0,559.6 1379.0,563.5 1381.0,566.0 C1383.0,568.5 1384.5,570.9 1386.7,573.0 C1389.0,575.1 1391.8,576.8 1394.5,578.5 C1397.2,580.2 1397.6,581.4 1403.0,583.0 C1408.4,584.6 1420.7,586.6 1426.7,588.0 C1432.7,589.4 1435.1,590.0 1439.0,591.5 C1442.9,593.0 1447.2,594.8 1450.0,596.7 C1452.8,598.6 1453.8,600.8 1455.5,603.0 C1457.2,605.2 1458.2,607.8 1460.0,610.0 C1461.8,612.2 1463.8,614.0 1466.0,616.0 C1468.2,618.0 1468.5,619.7 1473.0,621.7 C1477.5,623.7 1486.3,626.1 1493.0,628.0 C1499.7,629.9 1508.2,631.4 1513.0,633.0 C1517.8,634.6 1519.2,635.8 1522.0,637.5 C1524.8,639.2 1527.5,640.7 1530.0,643.0 C1532.5,645.3 1534.8,648.7 1537.0,651.5 C1539.2,654.3 1540.7,657.7 1543.0,660.0 C1545.3,662.3 1548.2,663.8 1551.0,665.5 C1553.8,667.2 1555.2,668.6 1560.0,670.0 C1564.8,671.4 1573.3,672.3 1580.0,674.0 C1586.7,675.7 1595.5,678.1 1600.0,680.0 C1604.5,681.9 1604.8,683.5 1607.0,685.5 C1609.2,687.5 1609.7,688.2 1613.0,691.7 C1616.3,695.2 1622.9,703.6 1626.7,706.7 C1630.5,709.8 1632.7,709.5 1636.0,710.5 C1639.3,711.5 1641.6,711.6 1646.7,713.0 C1651.8,714.4 1662.3,717.5 1666.7,719.0 C1671.1,720.5 1670.5,720.6 1673.0,721.7 C1675.5,722.8 1679.2,724.1 1682.0,725.5 C1684.8,726.9 1685.3,726.8 1690.0,730.0 C1694.7,733.2 1704.5,740.5 1710.0,745.0 C1715.5,749.5 1718.5,752.2 1723.0,756.7 C1727.5,761.2 1732.9,768.2 1736.7,771.7 C1740.5,775.2 1742.7,776.1 1746.0,778.0 C1749.3,779.9 1751.6,781.3 1756.7,783.0 C1761.8,784.7 1771.3,786.5 1776.7,788.0 C1782.1,789.5 1785.1,790.5 1789.0,792.0 C1792.9,793.5 1795.4,793.7 1800.0,796.7 C1804.6,799.7 1811.7,805.6 1816.7,810.0 C1821.7,814.4 1826.0,819.8 1830.0,823.0 C1834.0,826.2 1837.2,827.5 1841.0,829.5 C1844.8,831.5 1847.0,833.2 1853.0,835.0 C1859.0,836.8 1871.0,838.4 1876.7,840.0 C1882.4,841.6 1883.7,842.8 1887.0,844.5 C1890.3,846.2 1892.4,846.3 1896.7,850.0 C1901.0,853.7 1909.1,862.9 1913.0,866.7 C1916.9,870.5 1918.8,872.0 1920.0,873.0"/>
<path d="M155.0,785.0 C152.5,786.1 144.0,789.7 140.0,791.7 C136.0,793.7 133.8,795.1 131.0,797.0 C128.2,798.9 126.5,799.5 123.0,803.0 C119.5,806.5 113.8,814.2 110.0,818.0 C106.2,821.8 103.8,823.2 100.5,825.5 C97.2,827.8 95.6,829.6 90.0,831.7 C84.4,833.8 72.4,836.5 66.7,838.0 C61.0,839.5 59.3,839.8 56.0,841.0 C52.7,842.2 49.7,843.4 46.7,845.0 C43.7,846.6 40.8,848.5 38.0,850.5 C35.2,852.5 33.5,853.0 30.0,856.7 C26.4,860.5 20.3,869.2 16.7,873.0 C13.1,876.8 11.3,877.5 8.5,879.5 C5.7,881.5 1.4,884.1 0.0,885.0"/>
<path d="M238.0,788.0 C241.7,788.3 255.2,789.1 260.0,790.0 C264.8,790.9 264.8,792.2 267.0,793.5 C269.2,794.8 270.3,795.0 273.0,798.0 C275.7,801.0 280.0,808.6 283.0,811.7 C286.0,814.8 288.2,815.1 291.0,816.5 C293.8,817.9 295.2,818.9 300.0,820.0 C304.8,821.1 315.5,821.6 320.0,823.0 C324.5,824.4 324.8,826.5 327.0,828.5 C329.2,830.5 330.3,832.0 333.0,835.0 C335.7,838.0 340.0,844.3 343.0,846.7 C346.0,849.1 348.2,848.7 351.0,849.5 C353.8,850.3 355.2,850.8 360.0,851.7 C364.8,852.6 375.8,853.5 380.0,855.0 C384.2,856.5 383.8,858.5 385.5,860.5 C387.2,862.5 387.6,863.8 390.0,866.7 C392.4,869.6 396.8,875.6 400.0,878.0 C403.2,880.4 406.2,880.2 409.5,881.0 C412.8,881.8 414.9,881.5 420.0,883.0 C425.1,884.5 435.8,887.7 440.0,890.0 C444.2,892.3 443.8,894.5 445.5,897.0 C447.2,899.5 448.0,902.9 450.0,905.0 C452.0,907.1 454.7,908.2 457.5,909.5 C460.3,910.8 461.8,911.8 466.7,913.0 C471.6,914.2 482.1,915.4 486.7,916.7 C491.2,918.0 491.8,919.3 494.0,921.0 C496.2,922.7 497.3,923.9 500.0,926.7 C502.7,929.5 507.0,935.5 510.0,938.0 C513.0,940.5 515.2,940.5 518.0,941.5 C520.8,942.5 523.0,943.2 526.7,944.0 C530.4,944.8 537.8,945.7 540.0,946.0"/>
<path d="M530.0,1016.7 C528.3,1019.2 523.2,1028.2 520.0,1031.7 C516.8,1035.2 513.8,1036.1 510.5,1038.0 C507.2,1039.9 504.6,1040.5 500.0,1043.0 C495.4,1045.5 486.6,1050.0 483.0,1053.0 C479.4,1056.0 479.8,1058.2 478.5,1061.0 C477.2,1063.8 476.1,1066.8 475.0,1070.0 C473.9,1073.2 472.2,1078.3 471.7,1080.0"/>
<path d="M923.0,761.7 C920.3,764.2 911.0,773.0 906.7,776.7 C902.4,780.4 900.3,781.8 897.0,784.0 C893.7,786.2 892.4,788.5 886.7,790.0 C881.0,791.5 868.6,790.8 863.0,793.0 C857.4,795.2 856.8,798.5 853.0,803.0 C849.2,807.5 843.8,816.7 840.0,820.0 C836.2,823.3 833.8,822.2 830.5,823.0 C827.2,823.8 825.1,823.8 820.0,825.0 C814.9,826.2 804.5,827.8 800.0,830.0 C795.5,832.2 795.2,835.2 793.0,838.0 C790.8,840.8 789.0,844.3 786.7,846.7 C784.4,849.1 781.8,850.8 779.0,852.5 C776.2,854.2 775.4,855.5 770.0,856.7 C764.6,858.0 751.8,858.5 746.7,860.0 C741.6,861.5 741.8,863.8 739.5,866.0 C737.2,868.2 736.2,869.3 733.0,873.0 C729.8,876.7 723.8,885.0 720.0,888.0 C716.2,891.0 713.8,890.2 710.5,891.0 C707.2,891.8 704.6,891.8 700.0,892.7 C695.4,893.7 687.0,894.7 683.0,896.7 C679.0,898.7 678.2,901.8 676.0,904.5 C673.8,907.2 672.3,910.7 670.0,913.0 C667.7,915.3 664.8,916.8 662.0,918.5 C659.2,920.2 656.7,921.8 653.0,923.0 C649.3,924.2 644.4,925.2 640.0,926.0 C635.6,926.8 630.6,926.0 626.7,928.0 C622.8,930.0 618.4,936.3 616.7,938.0"/>
<path d="M613.0,971.7 C614.7,971.8 619.7,971.8 623.0,972.0 C626.3,972.2 629.0,973.3 633.0,973.0 C637.0,972.7 642.2,971.2 646.7,970.0 C651.2,968.8 655.6,967.2 660.0,966.0 C664.4,964.8 665.2,963.2 673.0,962.7 C680.8,962.2 697.2,962.0 706.7,963.0 C716.2,964.0 722.8,968.0 730.0,969.0 C737.2,970.0 743.8,969.8 750.0,969.0 C756.2,968.2 761.5,966.0 767.0,964.5 C772.5,963.0 775.8,961.1 783.0,960.0 C790.2,958.9 800.5,957.2 810.0,958.0 C819.5,958.8 830.5,963.5 840.0,965.0 C849.5,966.5 859.2,967.4 866.7,967.0 C874.2,966.6 879.0,964.0 885.0,962.5 C891.0,961.0 895.5,958.6 903.0,957.7 C910.5,956.8 920.0,955.8 930.0,957.0 C940.0,958.2 953.5,963.7 963.0,965.0 C972.5,966.3 979.7,965.8 986.7,965.0 C993.7,964.2 999.0,961.7 1005.0,960.0 C1011.0,958.3 1016.0,955.8 1023.0,955.0 C1030.0,954.2 1037.2,953.7 1046.7,955.0 C1056.2,956.3 1070.0,961.8 1080.0,962.7 C1090.0,963.7 1099.5,961.7 1106.7,960.7 C1113.9,959.7 1117.5,958.0 1123.0,956.5 C1128.5,955.0 1132.7,952.6 1140.0,952.0 C1147.3,951.4 1156.7,951.7 1166.7,953.0 C1176.7,954.3 1190.6,959.2 1200.0,960.0 C1209.4,960.8 1216.3,959.0 1223.0,958.0 C1229.7,957.0 1234.4,955.3 1240.0,954.0 C1245.6,952.7 1250.6,951.0 1256.7,950.0 C1262.8,949.0 1273.4,948.3 1276.7,948.0"/>
<path d="M620.0,991.7 C622.2,992.2 629.7,993.6 633.0,995.0 C636.3,996.4 637.7,997.8 640.0,1000.0 C642.3,1002.2 644.8,1005.7 647.0,1008.5 C649.2,1011.3 650.4,1014.7 653.0,1016.7 C655.6,1018.7 659.2,1019.5 662.5,1020.5 C665.8,1021.5 667.9,1021.4 673.0,1023.0 C678.1,1024.6 688.8,1027.8 693.0,1030.0 C697.2,1032.2 696.8,1033.8 698.5,1036.0 C700.2,1038.2 700.9,1040.8 703.0,1043.0 C705.1,1045.2 708.2,1047.2 711.0,1049.0 C713.8,1050.8 715.2,1052.5 720.0,1054.0 C724.8,1055.5 735.5,1056.6 740.0,1058.0 C744.5,1059.4 744.8,1060.8 747.0,1062.5 C749.2,1064.2 751.2,1065.1 753.0,1068.0 C754.8,1070.9 757.2,1078.0 758.0,1080.0"/>
<path d="M1005.0,773.0 C1007.5,774.7 1016.6,780.2 1020.0,783.0 C1023.4,785.8 1023.8,787.5 1025.5,790.0 C1027.2,792.5 1027.7,796.2 1030.0,798.0 C1032.3,799.8 1036.2,800.2 1039.5,801.0 C1042.8,801.8 1044.9,801.8 1050.0,803.0 C1055.1,804.2 1065.5,806.0 1070.0,808.0 C1074.5,810.0 1074.8,812.5 1077.0,815.0 C1079.2,817.5 1080.7,820.7 1083.0,823.0 C1085.3,825.3 1088.2,827.2 1091.0,829.0 C1093.8,830.8 1095.2,832.7 1100.0,834.0 C1104.8,835.3 1115.5,835.5 1120.0,836.7 C1124.5,837.9 1124.8,839.3 1127.0,841.0 C1129.2,842.7 1130.3,843.5 1133.0,846.7 C1135.7,849.9 1140.0,857.2 1143.0,860.0 C1146.0,862.8 1148.2,862.5 1151.0,863.5 C1153.8,864.5 1155.7,865.2 1160.0,866.0 C1164.3,866.8 1172.8,867.0 1176.7,868.0 C1180.6,869.0 1181.3,870.5 1183.5,872.0 C1185.7,873.5 1187.2,873.7 1190.0,876.7 C1192.8,879.7 1196.8,887.0 1200.0,890.0 C1203.2,893.0 1206.2,893.2 1209.5,894.5 C1212.8,895.8 1214.9,896.8 1220.0,898.0 C1225.1,899.2 1235.5,899.9 1240.0,901.7 C1244.5,903.5 1244.8,906.5 1247.0,909.0 C1249.2,911.5 1250.9,914.5 1253.0,916.7 C1255.1,918.9 1257.2,920.3 1259.5,922.0 C1261.8,923.7 1263.3,925.4 1266.7,926.7 C1270.1,928.0 1277.8,929.5 1280.0,930.0"/>
<path d="M1276.7,983.0 C1274.4,985.0 1267.1,992.7 1263.0,995.0 C1258.9,997.3 1255.8,996.5 1252.0,997.0 C1248.2,997.5 1244.8,996.4 1240.0,998.0 C1235.2,999.6 1226.8,1004.2 1223.0,1006.7 C1219.2,1009.2 1219.2,1010.8 1217.5,1013.0 C1215.8,1015.2 1215.0,1017.9 1213.0,1020.0 C1211.0,1022.1 1208.2,1023.8 1205.5,1025.5 C1202.8,1027.2 1202.1,1029.0 1196.7,1030.0 C1191.3,1031.0 1178.1,1030.5 1173.0,1031.7 C1167.9,1032.9 1168.2,1035.1 1166.0,1037.0 C1163.8,1038.9 1162.7,1039.7 1160.0,1043.0 C1157.3,1046.3 1153.2,1053.6 1150.0,1056.7 C1146.8,1059.8 1143.8,1060.1 1140.5,1061.5 C1137.2,1062.9 1135.1,1063.9 1130.0,1065.0 C1124.9,1066.1 1115.0,1065.5 1110.0,1068.0 C1105.0,1070.5 1101.7,1078.0 1100.0,1080.0"/>
<path d="M1353.0,995.0 C1356.3,996.3 1368.4,1000.3 1373.0,1003.0 C1377.6,1005.7 1378.2,1008.2 1380.5,1011.0 C1382.8,1013.8 1384.6,1015.7 1386.7,1020.0 C1388.8,1024.3 1390.3,1031.2 1393.0,1036.7 C1395.7,1042.2 1399.5,1049.2 1403.0,1053.0 C1406.5,1056.8 1410.0,1057.5 1414.0,1059.5 C1418.0,1061.5 1422.4,1061.6 1426.7,1065.0 C1431.0,1068.4 1437.8,1077.5 1440.0,1080.0"/>
</g>
<path d="M-6.0,558.5 C0.8,559.6 7.2,562.1 16.7,562.1 C35.6,562.1 42.8,551.7 61.7,551.7 C78.8,551.7 85.4,561.3 102.5,561.3 C121.6,561.3 134.3,553.8 148.0,550.6" fill="none" stroke="#6863b5" stroke-width="2.2" stroke-linecap="round"/>
<path d="M223.0,394.7 C224.0,398.5 226.2,402.1 226.2,407.4 C226.2,421.5 214.6,426.9 214.6,441.0 C214.6,453.0 223.8,457.5 223.8,469.5 C223.8,473.9 223.2,476.9 223.0,480.0" fill="none" stroke="#6863b5" stroke-width="2.2" stroke-linecap="round"/>
<path d="M303.0,548.8 C309.1,550.4 314.9,554.1 323.5,554.1 C342.5,554.1 349.8,543.7 368.8,543.7 C387.2,543.7 394.1,553.2 412.5,553.2 C430.3,553.2 437.0,542.7 454.8,542.7 C473.2,542.7 480.1,551.5 498.5,551.5 C516.4,551.5 528.2,544.7 541.0,541.8" fill="none" stroke="#6863b5" stroke-width="2.2" stroke-linecap="round"/>
<path d="M218.3,607.5 C215.1,615.4 207.5,622.7 207.5,633.7 C207.5,647.9 216.2,653.2 216.2,667.4 C216.2,681.0 204.8,686.2 204.8,699.9 C204.8,706.2 206.5,710.5 207.2,715.0" fill="none" stroke="#6863b5" stroke-width="2.2" stroke-linecap="round"/>
<path d="M621.0,549.0 C624.6,549.2 628.0,549.8 633.0,549.8 C653.4,549.8 661.1,538.8 681.5,538.8 C699.9,538.8 706.8,547.6 725.2,547.6 C746.0,547.6 754.0,535.9 774.8,535.9 C793.2,535.9 800.1,544.7 818.5,544.7 C838.5,544.7 846.0,534.0 866.0,534.0 C869.8,534.0 872.3,533.6 875.0,533.4" fill="none" stroke="#6863b5" stroke-width="2.2" stroke-linecap="round"/>
<path d="M1045.0,539.5 C1048.3,539.3 1051.4,538.8 1056.0,538.8 C1074.4,538.8 1081.4,528.0 1099.8,528.0 C1120.6,528.0 1128.6,537.2 1149.4,537.2 C1168.4,537.2 1175.6,526.5 1194.6,526.5 C1214.2,526.5 1221.7,535.0 1241.3,535.0 C1262.1,535.0 1270.0,524.0 1290.8,524.0 C1296.8,524.0 1300.7,524.7 1305.0,525.0" fill="none" stroke="#6863b5" stroke-width="2.2" stroke-linecap="round"/>
<path d="M961.8,373.0 C964.1,381.4 969.6,389.3 969.6,401.1 C969.6,420.3 957.5,427.6 957.5,446.8 C957.5,462.4 963.6,472.8 966.2,484.0" fill="none" stroke="#6863b5" stroke-width="2.2" stroke-linecap="round"/>
<path d="M955.8,594.0 C957.7,601.4 962.0,608.3 962.0,618.7 C962.0,636.9 950.3,643.8 950.3,662.0 C950.3,679.6 956.5,691.4 959.2,704.0" fill="none" stroke="#6863b5" stroke-width="2.2" stroke-linecap="round"/>
<path d="M1009.5,761.2 C1013.2,760.6 1016.6,759.2 1021.8,759.2 C1047.5,759.2 1057.4,778.0 1083.1,778.0 C1094.7,778.0 1099.2,774.6 1110.8,774.6 C1134.9,774.6 1144.1,793.0 1168.2,793.0 C1179.8,793.0 1184.3,789.1 1195.9,789.1 C1220.0,789.1 1229.2,807.9 1253.3,807.9 C1264.1,807.9 1268.2,803.9 1279.0,803.9 C1303.9,803.9 1313.5,822.7 1338.4,822.7 C1350.8,822.7 1359.1,820.1 1368.0,819.0" fill="none" stroke="#6863b5" stroke-width="2.2" stroke-linecap="round"/>
<path d="M1543.5,816.7 C1543.7,816.4 1544.5,815.4 1545.0,814.7 C1545.5,814.1 1546.0,813.5 1546.6,812.9 C1547.1,812.3 1547.6,811.8 1548.2,811.2 C1548.8,810.7 1549.3,810.2 1549.9,809.8 C1550.5,809.3 1551.2,808.9 1551.8,808.5 C1552.4,808.1 1553.1,807.8 1553.8,807.4 C1554.4,807.1 1555.1,806.8 1555.8,806.6 C1556.5,806.3 1557.3,806.1 1558.0,805.9 C1558.8,805.8 1559.5,805.6 1560.3,805.5 C1561.1,805.4 1561.9,805.3 1562.6,805.2 C1563.4,805.1 1564.2,805.0 1565.1,805.0 C1565.9,804.9 1566.7,804.9 1567.5,804.8 C1568.3,804.8 1569.2,804.7 1570.0,804.7 C1570.8,804.7 1571.6,804.6 1572.4,804.6 C1573.2,804.5 1574.0,804.4 1574.8,804.3 C1575.6,804.2 1576.4,804.1 1577.2,804.0 C1577.9,803.9 1578.7,803.7 1579.4,803.5 C1580.2,803.3 1580.9,803.1 1581.6,802.8 C1582.3,802.6 1583.0,802.3 1583.6,801.9 C1584.3,801.6 1585.0,801.2 1585.6,800.8 C1586.2,800.4 1586.8,800.0 1587.4,799.5 C1588.0,799.1 1588.6,798.6 1589.1,798.0 C1589.7,797.5 1590.2,796.9 1590.8,796.3 C1591.3,795.7 1591.8,795.1 1592.3,794.5 C1592.8,793.8 1593.3,793.2 1593.8,792.5 C1594.3,791.8 1594.8,791.1 1595.2,790.4 C1595.7,789.8 1596.2,789.1 1596.7,788.4 C1597.2,787.7 1597.6,787.0 1598.1,786.3 C1598.6,785.6 1599.1,785.0 1599.6,784.3 C1600.1,783.7 1600.6,783.1 1601.1,782.4 C1601.6,781.8 1602.2,781.3 1602.7,780.7 C1603.3,780.2 1603.9,779.6 1604.4,779.2 C1605.0,778.7 1605.6,778.2 1606.3,777.8 C1606.9,777.4 1607.5,777.0 1608.2,776.7 C1608.8,776.3 1609.5,776.0 1610.2,775.8 C1610.9,775.5 1611.6,775.2 1612.4,775.0 C1613.1,774.8 1613.8,774.7 1614.6,774.5 C1615.4,774.4 1616.1,774.2 1616.9,774.1 C1617.7,774.0 1618.5,774.0 1619.3,773.9 C1620.1,773.8 1620.9,773.8 1621.8,773.7 C1622.6,773.7 1623.4,773.7 1624.2,773.6 C1625.0,773.6 1625.9,773.5 1626.7,773.5 C1627.5,773.4 1628.3,773.4 1629.1,773.3 C1629.9,773.2 1630.7,773.1 1631.5,773.0 C1632.2,772.9 1633.0,772.8 1633.8,772.6 C1634.5,772.4 1635.2,772.2 1636.0,772.0 C1636.7,771.7 1637.4,771.5 1638.1,771.2 C1638.7,770.9 1639.4,770.5 1640.0,770.2 C1640.7,769.8 1641.3,769.4 1641.9,768.9 C1642.5,768.5 1643.1,768.0 1643.7,767.5 C1644.2,767.0 1644.8,766.4 1645.3,765.8 C1645.9,765.3 1646.4,764.7 1646.9,764.0 C1647.4,763.4 1647.9,762.8 1648.4,762.1 C1648.9,761.4 1649.4,760.8 1649.9,760.1 C1650.4,759.4 1650.8,758.7 1651.3,758.0 C1651.8,757.3 1652.3,756.6 1652.7,755.9 C1653.2,755.3 1653.7,754.6 1654.2,753.9 C1654.7,753.3 1655.2,752.6 1655.7,752.0 C1656.2,751.4 1656.7,750.8 1657.3,750.2 C1657.8,749.6 1658.4,749.1 1659.0,748.6 C1659.5,748.1 1660.1,747.6 1660.7,747.2 C1661.3,746.7 1662.0,746.3 1662.6,745.9 C1663.3,745.6 1663.9,745.2 1664.6,744.9 C1665.3,744.6 1666.0,744.4 1666.7,744.2 C1667.4,743.9 1668.2,743.7 1668.9,743.6 C1669.7,743.4 1670.4,743.3 1671.2,743.1 C1672.0,743.0 1672.8,742.9 1673.6,742.9 C1674.4,742.8 1675.2,742.7 1676.0,742.7 C1676.8,742.6 1677.7,742.6 1678.5,742.5 C1679.3,742.5 1680.1,742.5 1680.9,742.4 C1681.7,742.4 1682.6,742.3 1683.4,742.3 C1684.2,742.2 1685.0,742.1 1685.8,742.0 C1686.5,741.9 1687.3,741.8 1688.1,741.6 C1688.8,741.5 1689.6,741.3 1690.3,741.1 C1691.0,740.9 1691.8,740.6 1692.5,740.4 C1693.1,740.1 1693.8,739.8 1694.5,739.4 C1695.1,739.1 1695.8,738.7 1696.4,738.3 C1697.0,737.9 1697.6,737.4 1698.2,736.9 C1698.8,736.4 1699.3,735.9 1699.9,735.3 C1700.4,734.8 1701.2,733.9 1701.5,733.6" fill="none" stroke="#6863b5" stroke-width="2.1" stroke-linecap="round"/>
<path d="M1359.0,937.0 C1359.7,935.3 1361.5,929.8 1363.0,927.0 C1364.5,924.2 1366.0,922.2 1368.0,920.0 C1370.0,917.8 1372.3,915.5 1375.0,914.0 C1377.7,912.5 1382.5,911.5 1384.0,911.0" fill="none" stroke="#6863b5" stroke-width="2.2" stroke-linecap="round"/>
<path d="M1343.0,566.8 C1343.2,567.0 1343.8,567.7 1344.2,568.1 C1344.6,568.6 1345.1,569.0 1345.5,569.4 C1346.0,569.8 1346.5,570.1 1347.0,570.5 C1347.6,570.9 1348.1,571.2 1348.6,571.6 C1349.2,571.9 1349.8,572.2 1350.3,572.6 C1350.9,572.9 1351.5,573.2 1352.1,573.6 C1352.7,573.9 1353.3,574.2 1353.8,574.5 C1354.4,574.9 1355.0,575.2 1355.6,575.5 C1356.2,575.9 1356.7,576.2 1357.3,576.5 C1357.8,576.9 1358.3,577.3 1358.8,577.6 C1359.3,578.0 1359.8,578.4 1360.3,578.8 C1360.7,579.2 1361.2,579.6 1361.6,580.1 C1362.0,580.5 1362.4,581.0 1362.7,581.4 C1363.1,581.9 1363.4,582.4 1363.7,582.9 C1363.9,583.4 1364.2,584.0 1364.4,584.5 C1364.6,585.1 1364.8,585.6 1365.0,586.2 C1365.2,586.8 1365.3,587.4 1365.4,588.1 C1365.5,588.7 1365.6,589.3 1365.7,590.0 C1365.7,590.6 1365.8,591.3 1365.8,592.0 C1365.8,592.6 1365.8,593.3 1365.8,594.0 C1365.8,594.7 1365.8,595.4 1365.8,596.1 C1365.8,596.8 1365.8,597.5 1365.7,598.3 C1365.7,599.0 1365.7,599.7 1365.7,600.4 C1365.7,601.1 1365.7,601.8 1365.7,602.5 C1365.7,603.1 1365.7,603.8 1365.7,604.5 C1365.8,605.2 1365.8,605.8 1365.9,606.4 C1366.0,607.1 1366.1,607.7 1366.3,608.3 C1366.4,608.9 1366.6,609.5 1366.8,610.1 C1366.9,610.7 1367.2,611.2 1367.4,611.8 C1367.7,612.3 1368.0,612.8 1368.3,613.3 C1368.6,613.8 1368.9,614.3 1369.3,614.7 C1369.7,615.2 1370.1,615.6 1370.5,616.0 C1371.0,616.5 1371.4,616.9 1371.9,617.3 C1372.4,617.6 1372.9,618.0 1373.4,618.4 C1373.9,618.7 1374.5,619.1 1375.0,619.4 C1375.6,619.8 1376.2,620.1 1376.7,620.4 C1377.3,620.8 1377.9,621.1 1378.5,621.4 C1379.1,621.7 1379.7,622.1 1380.3,622.4 C1380.8,622.7 1381.4,623.0 1382.0,623.4 C1382.5,623.7 1383.1,624.1 1383.6,624.4 C1384.2,624.8 1384.7,625.1 1385.2,625.5 C1385.7,625.9 1386.2,626.3 1386.6,626.7 C1387.1,627.1 1387.5,627.5 1387.9,628.0 C1388.3,628.4 1388.7,628.9 1389.0,629.4 C1389.3,629.8 1389.7,630.3 1389.9,630.9 C1390.2,631.4 1390.4,631.9 1390.7,632.5 C1390.9,633.0 1391.1,633.6 1391.2,634.2 C1391.4,634.8 1391.5,635.4 1391.6,636.1 C1391.7,636.7 1391.8,637.3 1391.8,638.0 C1391.9,638.6 1391.9,639.3 1391.9,640.0 C1392.0,640.7 1392.0,641.4 1392.0,642.1 C1392.0,642.8 1391.9,643.5 1391.9,644.2 C1391.9,644.9 1391.9,645.6 1391.9,646.3 C1391.8,647.0 1391.8,647.7 1391.8,648.4 C1391.8,649.1 1391.8,649.8 1391.8,650.5 C1391.8,651.2 1391.9,651.8 1391.9,652.5 C1392.0,653.2 1392.0,653.8 1392.1,654.5 C1392.2,655.1 1392.3,655.7 1392.5,656.3 C1392.6,656.9 1392.8,657.5 1393.0,658.1 C1393.2,658.6 1393.4,659.2 1393.7,659.7 C1393.9,660.2 1394.2,660.7 1394.6,661.2 C1394.9,661.7 1395.2,662.2 1395.6,662.6 C1396.0,663.1 1396.4,663.5 1396.9,663.9 C1397.3,664.4 1397.8,664.8 1398.3,665.1 C1398.8,665.5 1399.3,665.9 1399.8,666.3 C1400.3,666.6 1400.9,667.0 1401.4,667.3 C1402.0,667.6 1402.6,668.0 1403.2,668.3 C1403.7,668.6 1404.3,669.0 1404.9,669.3 C1405.5,669.6 1406.1,669.9 1406.7,670.3 C1407.2,670.6 1407.8,670.9 1408.4,671.3 C1408.9,671.6 1409.5,671.9 1410.0,672.3 C1410.6,672.7 1411.1,673.0 1411.6,673.4 C1412.1,673.8 1412.5,674.2 1413.0,674.6 C1413.4,675.0 1413.8,675.4 1414.2,675.9 C1414.6,676.3 1415.0,676.8 1415.3,677.3 C1415.6,677.8 1415.9,678.3 1416.2,678.8 C1416.5,679.3 1416.7,679.9 1416.9,680.5 C1417.1,681.0 1417.3,681.6 1417.4,682.2 C1417.6,682.8 1417.7,683.4 1417.8,684.1 C1417.9,684.7 1418.0,685.7 1418.0,686.0" fill="none" stroke="#2419c5" stroke-width="3.8" stroke-linecap="round"/>
<rect x="618" y="447" width="253" height="57" rx="14" fill="#000" opacity=".065" filter="url(#sh)"/>
<rect x="609" y="423" width="271" height="71" rx="16" fill="#fff"/>
<text x="628.8" y="470" font-size="34.6" font-weight="400" fill="#e6645b" stroke="#e6645b" stroke-width="1.15" stroke-linejoin="round" letter-spacing="1.15" opacity=".999">Mobile Device</text>
<g transform="matrix(1,-0.557,0,1,1314,82.4)"><path d="M16.00,0.00 L62.00,0.00 Q74.00,0.00 74.00,12.00 L74.00,75.60 Q74.00,82.60 67.00,82.60 L13.00,82.60 Q0.00,82.60 0.00,69.60 L0.00,16.00 Q0.00,0.00 16.00,0.00 Z" fill="#6b65b3"/><path d="M15.00,-1.06 L61.00,-1.06 Q73.00,-1.06 73.00,10.94 L73.00,74.54 Q73.00,81.54 66.00,81.54 L12.00,81.54 Q-1.00,81.54 -1.00,68.54 L-1.00,14.94 Q-1.00,-1.06 15.00,-1.06 Z" fill="#6b65b3"/><path d="M14.00,-2.11 L60.00,-2.11 Q72.00,-2.11 72.00,9.89 L72.00,73.49 Q72.00,80.49 65.00,80.49 L11.00,80.49 Q-2.00,80.49 -2.00,67.49 L-2.00,13.89 Q-2.00,-2.11 14.00,-2.11 Z" fill="#6b65b3"/><path d="M13.00,-3.17 L59.00,-3.17 Q71.00,-3.17 71.00,8.83 L71.00,72.43 Q71.00,79.43 64.00,79.43 L10.00,79.43 Q-3.00,79.43 -3.00,66.43 L-3.00,12.83 Q-3.00,-3.17 13.00,-3.17 Z" fill="#6b65b3"/><path d="M12.00,-4.23 L58.00,-4.23 Q70.00,-4.23 70.00,7.77 L70.00,71.37 Q70.00,78.37 63.00,78.37 L9.00,78.37 Q-4.00,78.37 -4.00,65.37 L-4.00,11.77 Q-4.00,-4.23 12.00,-4.23 Z" fill="#6b65b3"/><path d="M11.00,-5.29 L57.00,-5.29 Q69.00,-5.29 69.00,6.71 L69.00,70.31 Q69.00,77.31 62.00,77.31 L8.00,77.31 Q-5.00,77.31 -5.00,64.31 L-5.00,10.71 Q-5.00,-5.29 11.00,-5.29 Z" fill="#6b65b3"/><path d="M10.00,-6.34 L56.00,-6.34 Q68.00,-6.34 68.00,5.66 L68.00,69.26 Q68.00,76.26 61.00,76.26 L7.00,76.26 Q-6.00,76.26 -6.00,63.26 L-6.00,9.66 Q-6.00,-6.34 10.00,-6.34 Z" fill="#6b65b3"/><path d="M9.00,-7.40 L55.00,-7.40 Q67.00,-7.40 67.00,4.60 L67.00,68.20 Q67.00,75.20 60.00,75.20 L6.00,75.20 Q-7.00,75.20 -7.00,62.20 L-7.00,8.60 Q-7.00,-7.40 9.00,-7.40 Z" fill="#6b65b3"/><path d="M8.00,-8.46 L54.00,-8.46 Q66.00,-8.46 66.00,3.54 L66.00,67.14 Q66.00,74.14 59.00,74.14 L5.00,74.14 Q-8.00,74.14 -8.00,61.14 L-8.00,7.54 Q-8.00,-8.46 8.00,-8.46 Z" fill="#6b65b3"/><path d="M7.00,-9.51 L53.00,-9.51 Q65.00,-9.51 65.00,2.49 L65.00,66.09 Q65.00,73.09 58.00,73.09 L4.00,73.09 Q-9.00,73.09 -9.00,60.09 L-9.00,6.49 Q-9.00,-9.51 7.00,-9.51 Z" fill="#6b65b3"/><path d="M6.00,-10.57 L52.00,-10.57 Q64.00,-10.57 64.00,1.43 L64.00,65.03 Q64.00,72.03 57.00,72.03 L3.00,72.03 Q-10.00,72.03 -10.00,59.03 L-10.00,5.43 Q-10.00,-10.57 6.00,-10.57 Z" fill="#6b65b3"/><path d="M16.00,0.00 L62.00,0.00 Q74.00,0.00 74.00,12.00 L74.00,75.60 Q74.00,82.60 67.00,82.60 L13.00,82.60 Q0.00,82.60 0.00,69.60 L0.00,16.00 Q0.00,0.00 16.00,0.00 Z" fill="url(#face)"/><path d="M16.60,0.60 L61.40,0.60 Q73.40,0.60 73.40,12.60 L73.40,75.00 Q73.40,82.00 66.40,82.00 L13.60,82.00 Q0.60,82.00 0.60,69.00 L0.60,16.60 Q0.60,0.60 16.60,0.60 Z" fill="none" stroke="#c9c5fb" stroke-opacity=".6" stroke-width="1.2"/></g><ellipse cx="1333.6" cy="114.9" rx="2.6" ry="3" fill="#f7a8a6" transform="rotate(20 1333.6 114.9)"/><ellipse cx="1346.5" cy="107.5" rx="2.6" ry="3" fill="#f4f3fb" transform="rotate(20 1346.5 107.5)"/><ellipse cx="1359.4" cy="100.1" rx="2.6" ry="3" fill="#f4f3fb" transform="rotate(20 1359.4 100.1)"/><ellipse cx="1372.3" cy="92.7" rx="2.6" ry="3" fill="#f4f3fb" transform="rotate(20 1372.3 92.7)"/><line x1="1309.2" y1="103" x2="1309.2" y2="138" stroke="#b9b4f6" stroke-width="2" stroke-linecap="round"/>
<g transform="matrix(1,-0.557,0,1,937,304.4)"><path d="M16.00,0.00 L62.00,0.00 Q74.00,0.00 74.00,12.00 L74.00,75.60 Q74.00,82.60 67.00,82.60 L13.00,82.60 Q0.00,82.60 0.00,69.60 L0.00,16.00 Q0.00,0.00 16.00,0.00 Z" fill="#6b65b3"/><path d="M15.00,-1.06 L61.00,-1.06 Q73.00,-1.06 73.00,10.94 L73.00,74.54 Q73.00,81.54 66.00,81.54 L12.00,81.54 Q-1.00,81.54 -1.00,68.54 L-1.00,14.94 Q-1.00,-1.06 15.00,-1.06 Z" fill="#6b65b3"/><path d="M14.00,-2.11 L60.00,-2.11 Q72.00,-2.11 72.00,9.89 L72.00,73.49 Q72.00,80.49 65.00,80.49 L11.00,80.49 Q-2.00,80.49 -2.00,67.49 L-2.00,13.89 Q-2.00,-2.11 14.00,-2.11 Z" fill="#6b65b3"/><path d="M13.00,-3.17 L59.00,-3.17 Q71.00,-3.17 71.00,8.83 L71.00,72.43 Q71.00,79.43 64.00,79.43 L10.00,79.43 Q-3.00,79.43 -3.00,66.43 L-3.00,12.83 Q-3.00,-3.17 13.00,-3.17 Z" fill="#6b65b3"/><path d="M12.00,-4.23 L58.00,-4.23 Q70.00,-4.23 70.00,7.77 L70.00,71.37 Q70.00,78.37 63.00,78.37 L9.00,78.37 Q-4.00,78.37 -4.00,65.37 L-4.00,11.77 Q-4.00,-4.23 12.00,-4.23 Z" fill="#6b65b3"/><path d="M11.00,-5.29 L57.00,-5.29 Q69.00,-5.29 69.00,6.71 L69.00,70.31 Q69.00,77.31 62.00,77.31 L8.00,77.31 Q-5.00,77.31 -5.00,64.31 L-5.00,10.71 Q-5.00,-5.29 11.00,-5.29 Z" fill="#6b65b3"/><path d="M10.00,-6.34 L56.00,-6.34 Q68.00,-6.34 68.00,5.66 L68.00,69.26 Q68.00,76.26 61.00,76.26 L7.00,76.26 Q-6.00,76.26 -6.00,63.26 L-6.00,9.66 Q-6.00,-6.34 10.00,-6.34 Z" fill="#6b65b3"/><path d="M9.00,-7.40 L55.00,-7.40 Q67.00,-7.40 67.00,4.60 L67.00,68.20 Q67.00,75.20 60.00,75.20 L6.00,75.20 Q-7.00,75.20 -7.00,62.20 L-7.00,8.60 Q-7.00,-7.40 9.00,-7.40 Z" fill="#6b65b3"/><path d="M8.00,-8.46 L54.00,-8.46 Q66.00,-8.46 66.00,3.54 L66.00,67.14 Q66.00,74.14 59.00,74.14 L5.00,74.14 Q-8.00,74.14 -8.00,61.14 L-8.00,7.54 Q-8.00,-8.46 8.00,-8.46 Z" fill="#6b65b3"/><path d="M7.00,-9.51 L53.00,-9.51 Q65.00,-9.51 65.00,2.49 L65.00,66.09 Q65.00,73.09 58.00,73.09 L4.00,73.09 Q-9.00,73.09 -9.00,60.09 L-9.00,6.49 Q-9.00,-9.51 7.00,-9.51 Z" fill="#6b65b3"/><path d="M6.00,-10.57 L52.00,-10.57 Q64.00,-10.57 64.00,1.43 L64.00,65.03 Q64.00,72.03 57.00,72.03 L3.00,72.03 Q-10.00,72.03 -10.00,59.03 L-10.00,5.43 Q-10.00,-10.57 6.00,-10.57 Z" fill="#6b65b3"/><path d="M16.00,0.00 L62.00,0.00 Q74.00,0.00 74.00,12.00 L74.00,75.60 Q74.00,82.60 67.00,82.60 L13.00,82.60 Q0.00,82.60 0.00,69.60 L0.00,16.00 Q0.00,0.00 16.00,0.00 Z" fill="url(#face)"/><path d="M16.60,0.60 L61.40,0.60 Q73.40,0.60 73.40,12.60 L73.40,75.00 Q73.40,82.00 66.40,82.00 L13.60,82.00 Q0.60,82.00 0.60,69.00 L0.60,16.60 Q0.60,0.60 16.60,0.60 Z" fill="none" stroke="#c9c5fb" stroke-opacity=".6" stroke-width="1.2"/></g><ellipse cx="956.6" cy="336.9" rx="2.6" ry="3" fill="#f7a8a6" transform="rotate(20 956.6 336.9)"/><ellipse cx="969.5" cy="329.5" rx="2.6" ry="3" fill="#f4f3fb" transform="rotate(20 969.5 329.5)"/><ellipse cx="982.4" cy="322.1" rx="2.6" ry="3" fill="#f4f3fb" transform="rotate(20 982.4 322.1)"/><ellipse cx="995.3" cy="314.7" rx="2.6" ry="3" fill="#f4f3fb" transform="rotate(20 995.3 314.7)"/><line x1="932.2" y1="325" x2="932.2" y2="360" stroke="#b9b4f6" stroke-width="2" stroke-linecap="round"/>
<g transform="matrix(1,-0.557,0,1,1679,286.4)"><path d="M16.00,0.00 L62.00,0.00 Q74.00,0.00 74.00,12.00 L74.00,75.60 Q74.00,82.60 67.00,82.60 L13.00,82.60 Q0.00,82.60 0.00,69.60 L0.00,16.00 Q0.00,0.00 16.00,0.00 Z" fill="#6b65b3"/><path d="M15.00,-1.06 L61.00,-1.06 Q73.00,-1.06 73.00,10.94 L73.00,74.54 Q73.00,81.54 66.00,81.54 L12.00,81.54 Q-1.00,81.54 -1.00,68.54 L-1.00,14.94 Q-1.00,-1.06 15.00,-1.06 Z" fill="#6b65b3"/><path d="M14.00,-2.11 L60.00,-2.11 Q72.00,-2.11 72.00,9.89 L72.00,73.49 Q72.00,80.49 65.00,80.49 L11.00,80.49 Q-2.00,80.49 -2.00,67.49 L-2.00,13.89 Q-2.00,-2.11 14.00,-2.11 Z" fill="#6b65b3"/><path d="M13.00,-3.17 L59.00,-3.17 Q71.00,-3.17 71.00,8.83 L71.00,72.43 Q71.00,79.43 64.00,79.43 L10.00,79.43 Q-3.00,79.43 -3.00,66.43 L-3.00,12.83 Q-3.00,-3.17 13.00,-3.17 Z" fill="#6b65b3"/><path d="M12.00,-4.23 L58.00,-4.23 Q70.00,-4.23 70.00,7.77 L70.00,71.37 Q70.00,78.37 63.00,78.37 L9.00,78.37 Q-4.00,78.37 -4.00,65.37 L-4.00,11.77 Q-4.00,-4.23 12.00,-4.23 Z" fill="#6b65b3"/><path d="M11.00,-5.29 L57.00,-5.29 Q69.00,-5.29 69.00,6.71 L69.00,70.31 Q69.00,77.31 62.00,77.31 L8.00,77.31 Q-5.00,77.31 -5.00,64.31 L-5.00,10.71 Q-5.00,-5.29 11.00,-5.29 Z" fill="#6b65b3"/><path d="M10.00,-6.34 L56.00,-6.34 Q68.00,-6.34 68.00,5.66 L68.00,69.26 Q68.00,76.26 61.00,76.26 L7.00,76.26 Q-6.00,76.26 -6.00,63.26 L-6.00,9.66 Q-6.00,-6.34 10.00,-6.34 Z" fill="#6b65b3"/><path d="M9.00,-7.40 L55.00,-7.40 Q67.00,-7.40 67.00,4.60 L67.00,68.20 Q67.00,75.20 60.00,75.20 L6.00,75.20 Q-7.00,75.20 -7.00,62.20 L-7.00,8.60 Q-7.00,-7.40 9.00,-7.40 Z" fill="#6b65b3"/><path d="M8.00,-8.46 L54.00,-8.46 Q66.00,-8.46 66.00,3.54 L66.00,67.14 Q66.00,74.14 59.00,74.14 L5.00,74.14 Q-8.00,74.14 -8.00,61.14 L-8.00,7.54 Q-8.00,-8.46 8.00,-8.46 Z" fill="#6b65b3"/><path d="M7.00,-9.51 L53.00,-9.51 Q65.00,-9.51 65.00,2.49 L65.00,66.09 Q65.00,73.09 58.00,73.09 L4.00,73.09 Q-9.00,73.09 -9.00,60.09 L-9.00,6.49 Q-9.00,-9.51 7.00,-9.51 Z" fill="#6b65b3"/><path d="M6.00,-10.57 L52.00,-10.57 Q64.00,-10.57 64.00,1.43 L64.00,65.03 Q64.00,72.03 57.00,72.03 L3.00,72.03 Q-10.00,72.03 -10.00,59.03 L-10.00,5.43 Q-10.00,-10.57 6.00,-10.57 Z" fill="#6b65b3"/><path d="M16.00,0.00 L62.00,0.00 Q74.00,0.00 74.00,12.00 L74.00,75.60 Q74.00,82.60 67.00,82.60 L13.00,82.60 Q0.00,82.60 0.00,69.60 L0.00,16.00 Q0.00,0.00 16.00,0.00 Z" fill="url(#face)"/><path d="M16.60,0.60 L61.40,0.60 Q73.40,0.60 73.40,12.60 L73.40,75.00 Q73.40,82.00 66.40,82.00 L13.60,82.00 Q0.60,82.00 0.60,69.00 L0.60,16.60 Q0.60,0.60 16.60,0.60 Z" fill="none" stroke="#c9c5fb" stroke-opacity=".6" stroke-width="1.2"/></g><ellipse cx="1698.6" cy="318.9" rx="2.6" ry="3" fill="#f7a8a6" transform="rotate(20 1698.6 318.9)"/><ellipse cx="1711.5" cy="311.5" rx="2.6" ry="3" fill="#f4f3fb" transform="rotate(20 1711.5 311.5)"/><ellipse cx="1724.4" cy="304.1" rx="2.6" ry="3" fill="#f4f3fb" transform="rotate(20 1724.4 304.1)"/><ellipse cx="1737.3" cy="296.7" rx="2.6" ry="3" fill="#f4f3fb" transform="rotate(20 1737.3 296.7)"/><line x1="1674.2" y1="307" x2="1674.2" y2="342" stroke="#b9b4f6" stroke-width="2" stroke-linecap="round"/>
<g transform="matrix(1,-0.557,0,1,549,527.4)"><path d="M16.00,0.00 L62.00,0.00 Q74.00,0.00 74.00,12.00 L74.00,75.60 Q74.00,82.60 67.00,82.60 L13.00,82.60 Q0.00,82.60 0.00,69.60 L0.00,16.00 Q0.00,0.00 16.00,0.00 Z" fill="#6b65b3"/><path d="M15.00,-1.06 L61.00,-1.06 Q73.00,-1.06 73.00,10.94 L73.00,74.54 Q73.00,81.54 66.00,81.54 L12.00,81.54 Q-1.00,81.54 -1.00,68.54 L-1.00,14.94 Q-1.00,-1.06 15.00,-1.06 Z" fill="#6b65b3"/><path d="M14.00,-2.11 L60.00,-2.11 Q72.00,-2.11 72.00,9.89 L72.00,73.49 Q72.00,80.49 65.00,80.49 L11.00,80.49 Q-2.00,80.49 -2.00,67.49 L-2.00,13.89 Q-2.00,-2.11 14.00,-2.11 Z" fill="#6b65b3"/><path d="M13.00,-3.17 L59.00,-3.17 Q71.00,-3.17 71.00,8.83 L71.00,72.43 Q71.00,79.43 64.00,79.43 L10.00,79.43 Q-3.00,79.43 -3.00,66.43 L-3.00,12.83 Q-3.00,-3.17 13.00,-3.17 Z" fill="#6b65b3"/><path d="M12.00,-4.23 L58.00,-4.23 Q70.00,-4.23 70.00,7.77 L70.00,71.37 Q70.00,78.37 63.00,78.37 L9.00,78.37 Q-4.00,78.37 -4.00,65.37 L-4.00,11.77 Q-4.00,-4.23 12.00,-4.23 Z" fill="#6b65b3"/><path d="M11.00,-5.29 L57.00,-5.29 Q69.00,-5.29 69.00,6.71 L69.00,70.31 Q69.00,77.31 62.00,77.31 L8.00,77.31 Q-5.00,77.31 -5.00,64.31 L-5.00,10.71 Q-5.00,-5.29 11.00,-5.29 Z" fill="#6b65b3"/><path d="M10.00,-6.34 L56.00,-6.34 Q68.00,-6.34 68.00,5.66 L68.00,69.26 Q68.00,76.26 61.00,76.26 L7.00,76.26 Q-6.00,76.26 -6.00,63.26 L-6.00,9.66 Q-6.00,-6.34 10.00,-6.34 Z" fill="#6b65b3"/><path d="M9.00,-7.40 L55.00,-7.40 Q67.00,-7.40 67.00,4.60 L67.00,68.20 Q67.00,75.20 60.00,75.20 L6.00,75.20 Q-7.00,75.20 -7.00,62.20 L-7.00,8.60 Q-7.00,-7.40 9.00,-7.40 Z" fill="#6b65b3"/><path d="M8.00,-8.46 L54.00,-8.46 Q66.00,-8.46 66.00,3.54 L66.00,67.14 Q66.00,74.14 59.00,74.14 L5.00,74.14 Q-8.00,74.14 -8.00,61.14 L-8.00,7.54 Q-8.00,-8.46 8.00,-8.46 Z" fill="#6b65b3"/><path d="M7.00,-9.51 L53.00,-9.51 Q65.00,-9.51 65.00,2.49 L65.00,66.09 Q65.00,73.09 58.00,73.09 L4.00,73.09 Q-9.00,73.09 -9.00,60.09 L-9.00,6.49 Q-9.00,-9.51 7.00,-9.51 Z" fill="#6b65b3"/><path d="M6.00,-10.57 L52.00,-10.57 Q64.00,-10.57 64.00,1.43 L64.00,65.03 Q64.00,72.03 57.00,72.03 L3.00,72.03 Q-10.00,72.03 -10.00,59.03 L-10.00,5.43 Q-10.00,-10.57 6.00,-10.57 Z" fill="#6b65b3"/><path d="M16.00,0.00 L62.00,0.00 Q74.00,0.00 74.00,12.00 L74.00,75.60 Q74.00,82.60 67.00,82.60 L13.00,82.60 Q0.00,82.60 0.00,69.60 L0.00,16.00 Q0.00,0.00 16.00,0.00 Z" fill="url(#face)"/><path d="M16.60,0.60 L61.40,0.60 Q73.40,0.60 73.40,12.60 L73.40,75.00 Q73.40,82.00 66.40,82.00 L13.60,82.00 Q0.60,82.00 0.60,69.00 L0.60,16.60 Q0.60,0.60 16.60,0.60 Z" fill="none" stroke="#c9c5fb" stroke-opacity=".6" stroke-width="1.2"/></g><ellipse cx="568.6" cy="559.9" rx="2.6" ry="3" fill="#f7a8a6" transform="rotate(20 568.6 559.9)"/><ellipse cx="581.5" cy="552.5" rx="2.6" ry="3" fill="#f4f3fb" transform="rotate(20 581.5 552.5)"/><ellipse cx="594.4" cy="545.1" rx="2.6" ry="3" fill="#f4f3fb" transform="rotate(20 594.4 545.1)"/><ellipse cx="607.3" cy="537.7" rx="2.6" ry="3" fill="#f4f3fb" transform="rotate(20 607.3 537.7)"/><line x1="544.2" y1="548" x2="544.2" y2="583" stroke="#b9b4f6" stroke-width="2" stroke-linecap="round"/>
<g transform="matrix(1,-0.557,0,1,1314,499.4)"><path d="M16.00,0.00 L62.00,0.00 Q74.00,0.00 74.00,12.00 L74.00,75.60 Q74.00,82.60 67.00,82.60 L13.00,82.60 Q0.00,82.60 0.00,69.60 L0.00,16.00 Q0.00,0.00 16.00,0.00 Z" fill="#6b65b3"/><path d="M15.00,-1.06 L61.00,-1.06 Q73.00,-1.06 73.00,10.94 L73.00,74.54 Q73.00,81.54 66.00,81.54 L12.00,81.54 Q-1.00,81.54 -1.00,68.54 L-1.00,14.94 Q-1.00,-1.06 15.00,-1.06 Z" fill="#6b65b3"/><path d="M14.00,-2.11 L60.00,-2.11 Q72.00,-2.11 72.00,9.89 L72.00,73.49 Q72.00,80.49 65.00,80.49 L11.00,80.49 Q-2.00,80.49 -2.00,67.49 L-2.00,13.89 Q-2.00,-2.11 14.00,-2.11 Z" fill="#6b65b3"/><path d="M13.00,-3.17 L59.00,-3.17 Q71.00,-3.17 71.00,8.83 L71.00,72.43 Q71.00,79.43 64.00,79.43 L10.00,79.43 Q-3.00,79.43 -3.00,66.43 L-3.00,12.83 Q-3.00,-3.17 13.00,-3.17 Z" fill="#6b65b3"/><path d="M12.00,-4.23 L58.00,-4.23 Q70.00,-4.23 70.00,7.77 L70.00,71.37 Q70.00,78.37 63.00,78.37 L9.00,78.37 Q-4.00,78.37 -4.00,65.37 L-4.00,11.77 Q-4.00,-4.23 12.00,-4.23 Z" fill="#6b65b3"/><path d="M11.00,-5.29 L57.00,-5.29 Q69.00,-5.29 69.00,6.71 L69.00,70.31 Q69.00,77.31 62.00,77.31 L8.00,77.31 Q-5.00,77.31 -5.00,64.31 L-5.00,10.71 Q-5.00,-5.29 11.00,-5.29 Z" fill="#6b65b3"/><path d="M10.00,-6.34 L56.00,-6.34 Q68.00,-6.34 68.00,5.66 L68.00,69.26 Q68.00,76.26 61.00,76.26 L7.00,76.26 Q-6.00,76.26 -6.00,63.26 L-6.00,9.66 Q-6.00,-6.34 10.00,-6.34 Z" fill="#6b65b3"/><path d="M9.00,-7.40 L55.00,-7.40 Q67.00,-7.40 67.00,4.60 L67.00,68.20 Q67.00,75.20 60.00,75.20 L6.00,75.20 Q-7.00,75.20 -7.00,62.20 L-7.00,8.60 Q-7.00,-7.40 9.00,-7.40 Z" fill="#6b65b3"/><path d="M8.00,-8.46 L54.00,-8.46 Q66.00,-8.46 66.00,3.54 L66.00,67.14 Q66.00,74.14 59.00,74.14 L5.00,74.14 Q-8.00,74.14 -8.00,61.14 L-8.00,7.54 Q-8.00,-8.46 8.00,-8.46 Z" fill="#6b65b3"/><path d="M7.00,-9.51 L53.00,-9.51 Q65.00,-9.51 65.00,2.49 L65.00,66.09 Q65.00,73.09 58.00,73.09 L4.00,73.09 Q-9.00,73.09 -9.00,60.09 L-9.00,6.49 Q-9.00,-9.51 7.00,-9.51 Z" fill="#6b65b3"/><path d="M6.00,-10.57 L52.00,-10.57 Q64.00,-10.57 64.00,1.43 L64.00,65.03 Q64.00,72.03 57.00,72.03 L3.00,72.03 Q-10.00,72.03 -10.00,59.03 L-10.00,5.43 Q-10.00,-10.57 6.00,-10.57 Z" fill="#6b65b3"/><path d="M16.00,0.00 L62.00,0.00 Q74.00,0.00 74.00,12.00 L74.00,75.60 Q74.00,82.60 67.00,82.60 L13.00,82.60 Q0.00,82.60 0.00,69.60 L0.00,16.00 Q0.00,0.00 16.00,0.00 Z" fill="url(#face)"/><path d="M16.60,0.60 L61.40,0.60 Q73.40,0.60 73.40,12.60 L73.40,75.00 Q73.40,82.00 66.40,82.00 L13.60,82.00 Q0.60,82.00 0.60,69.00 L0.60,16.60 Q0.60,0.60 16.60,0.60 Z" fill="none" stroke="#c9c5fb" stroke-opacity=".6" stroke-width="1.2"/></g><ellipse cx="1333.6" cy="531.9" rx="2.6" ry="3" fill="#f7a8a6" transform="rotate(20 1333.6 531.9)"/><ellipse cx="1346.5" cy="524.5" rx="2.6" ry="3" fill="#f4f3fb" transform="rotate(20 1346.5 524.5)"/><ellipse cx="1359.4" cy="517.1" rx="2.6" ry="3" fill="#f4f3fb" transform="rotate(20 1359.4 517.1)"/><ellipse cx="1372.3" cy="509.7" rx="2.6" ry="3" fill="#f4f3fb" transform="rotate(20 1372.3 509.7)"/><line x1="1309.2" y1="520" x2="1309.2" y2="555" stroke="#b9b4f6" stroke-width="2" stroke-linecap="round"/>
<g transform="matrix(1,-0.557,0,1,166,751.4)"><path d="M16.00,0.00 L62.00,0.00 Q74.00,0.00 74.00,12.00 L74.00,75.60 Q74.00,82.60 67.00,82.60 L13.00,82.60 Q0.00,82.60 0.00,69.60 L0.00,16.00 Q0.00,0.00 16.00,0.00 Z" fill="#6b65b3"/><path d="M15.00,-1.06 L61.00,-1.06 Q73.00,-1.06 73.00,10.94 L73.00,74.54 Q73.00,81.54 66.00,81.54 L12.00,81.54 Q-1.00,81.54 -1.00,68.54 L-1.00,14.94 Q-1.00,-1.06 15.00,-1.06 Z" fill="#6b65b3"/><path d="M14.00,-2.11 L60.00,-2.11 Q72.00,-2.11 72.00,9.89 L72.00,73.49 Q72.00,80.49 65.00,80.49 L11.00,80.49 Q-2.00,80.49 -2.00,67.49 L-2.00,13.89 Q-2.00,-2.11 14.00,-2.11 Z" fill="#6b65b3"/><path d="M13.00,-3.17 L59.00,-3.17 Q71.00,-3.17 71.00,8.83 L71.00,72.43 Q71.00,79.43 64.00,79.43 L10.00,79.43 Q-3.00,79.43 -3.00,66.43 L-3.00,12.83 Q-3.00,-3.17 13.00,-3.17 Z" fill="#6b65b3"/><path d="M12.00,-4.23 L58.00,-4.23 Q70.00,-4.23 70.00,7.77 L70.00,71.37 Q70.00,78.37 63.00,78.37 L9.00,78.37 Q-4.00,78.37 -4.00,65.37 L-4.00,11.77 Q-4.00,-4.23 12.00,-4.23 Z" fill="#6b65b3"/><path d="M11.00,-5.29 L57.00,-5.29 Q69.00,-5.29 69.00,6.71 L69.00,70.31 Q69.00,77.31 62.00,77.31 L8.00,77.31 Q-5.00,77.31 -5.00,64.31 L-5.00,10.71 Q-5.00,-5.29 11.00,-5.29 Z" fill="#6b65b3"/><path d="M10.00,-6.34 L56.00,-6.34 Q68.00,-6.34 68.00,5.66 L68.00,69.26 Q68.00,76.26 61.00,76.26 L7.00,76.26 Q-6.00,76.26 -6.00,63.26 L-6.00,9.66 Q-6.00,-6.34 10.00,-6.34 Z" fill="#6b65b3"/><path d="M9.00,-7.40 L55.00,-7.40 Q67.00,-7.40 67.00,4.60 L67.00,68.20 Q67.00,75.20 60.00,75.20 L6.00,75.20 Q-7.00,75.20 -7.00,62.20 L-7.00,8.60 Q-7.00,-7.40 9.00,-7.40 Z" fill="#6b65b3"/><path d="M8.00,-8.46 L54.00,-8.46 Q66.00,-8.46 66.00,3.54 L66.00,67.14 Q66.00,74.14 59.00,74.14 L5.00,74.14 Q-8.00,74.14 -8.00,61.14 L-8.00,7.54 Q-8.00,-8.46 8.00,-8.46 Z" fill="#6b65b3"/><path d="M7.00,-9.51 L53.00,-9.51 Q65.00,-9.51 65.00,2.49 L65.00,66.09 Q65.00,73.09 58.00,73.09 L4.00,73.09 Q-9.00,73.09 -9.00,60.09 L-9.00,6.49 Q-9.00,-9.51 7.00,-9.51 Z" fill="#6b65b3"/><path d="M6.00,-10.57 L52.00,-10.57 Q64.00,-10.57 64.00,1.43 L64.00,65.03 Q64.00,72.03 57.00,72.03 L3.00,72.03 Q-10.00,72.03 -10.00,59.03 L-10.00,5.43 Q-10.00,-10.57 6.00,-10.57 Z" fill="#6b65b3"/><path d="M16.00,0.00 L62.00,0.00 Q74.00,0.00 74.00,12.00 L74.00,75.60 Q74.00,82.60 67.00,82.60 L13.00,82.60 Q0.00,82.60 0.00,69.60 L0.00,16.00 Q0.00,0.00 16.00,0.00 Z" fill="url(#face)"/><path d="M16.60,0.60 L61.40,0.60 Q73.40,0.60 73.40,12.60 L73.40,75.00 Q73.40,82.00 66.40,82.00 L13.60,82.00 Q0.60,82.00 0.60,69.00 L0.60,16.60 Q0.60,0.60 16.60,0.60 Z" fill="none" stroke="#c9c5fb" stroke-opacity=".6" stroke-width="1.2"/></g><ellipse cx="185.6" cy="783.9" rx="2.6" ry="3" fill="#f7a8a6" transform="rotate(20 185.6 783.9)"/><ellipse cx="198.5" cy="776.5" rx="2.6" ry="3" fill="#f4f3fb" transform="rotate(20 198.5 776.5)"/><ellipse cx="211.4" cy="769.1" rx="2.6" ry="3" fill="#f4f3fb" transform="rotate(20 211.4 769.1)"/><ellipse cx="224.3" cy="761.7" rx="2.6" ry="3" fill="#f4f3fb" transform="rotate(20 224.3 761.7)"/><line x1="161.2" y1="772" x2="161.2" y2="807" stroke="#b9b4f6" stroke-width="2" stroke-linecap="round"/>
<g transform="matrix(1,-0.557,0,1,937,729.4)"><path d="M16.00,0.00 L62.00,0.00 Q74.00,0.00 74.00,12.00 L74.00,75.60 Q74.00,82.60 67.00,82.60 L13.00,82.60 Q0.00,82.60 0.00,69.60 L0.00,16.00 Q0.00,0.00 16.00,0.00 Z" fill="#6b65b3"/><path d="M15.00,-1.06 L61.00,-1.06 Q73.00,-1.06 73.00,10.94 L73.00,74.54 Q73.00,81.54 66.00,81.54 L12.00,81.54 Q-1.00,81.54 -1.00,68.54 L-1.00,14.94 Q-1.00,-1.06 15.00,-1.06 Z" fill="#6b65b3"/><path d="M14.00,-2.11 L60.00,-2.11 Q72.00,-2.11 72.00,9.89 L72.00,73.49 Q72.00,80.49 65.00,80.49 L11.00,80.49 Q-2.00,80.49 -2.00,67.49 L-2.00,13.89 Q-2.00,-2.11 14.00,-2.11 Z" fill="#6b65b3"/><path d="M13.00,-3.17 L59.00,-3.17 Q71.00,-3.17 71.00,8.83 L71.00,72.43 Q71.00,79.43 64.00,79.43 L10.00,79.43 Q-3.00,79.43 -3.00,66.43 L-3.00,12.83 Q-3.00,-3.17 13.00,-3.17 Z" fill="#6b65b3"/><path d="M12.00,-4.23 L58.00,-4.23 Q70.00,-4.23 70.00,7.77 L70.00,71.37 Q70.00,78.37 63.00,78.37 L9.00,78.37 Q-4.00,78.37 -4.00,65.37 L-4.00,11.77 Q-4.00,-4.23 12.00,-4.23 Z" fill="#6b65b3"/><path d="M11.00,-5.29 L57.00,-5.29 Q69.00,-5.29 69.00,6.71 L69.00,70.31 Q69.00,77.31 62.00,77.31 L8.00,77.31 Q-5.00,77.31 -5.00,64.31 L-5.00,10.71 Q-5.00,-5.29 11.00,-5.29 Z" fill="#6b65b3"/><path d="M10.00,-6.34 L56.00,-6.34 Q68.00,-6.34 68.00,5.66 L68.00,69.26 Q68.00,76.26 61.00,76.26 L7.00,76.26 Q-6.00,76.26 -6.00,63.26 L-6.00,9.66 Q-6.00,-6.34 10.00,-6.34 Z" fill="#6b65b3"/><path d="M9.00,-7.40 L55.00,-7.40 Q67.00,-7.40 67.00,4.60 L67.00,68.20 Q67.00,75.20 60.00,75.20 L6.00,75.20 Q-7.00,75.20 -7.00,62.20 L-7.00,8.60 Q-7.00,-7.40 9.00,-7.40 Z" fill="#6b65b3"/><path d="M8.00,-8.46 L54.00,-8.46 Q66.00,-8.46 66.00,3.54 L66.00,67.14 Q66.00,74.14 59.00,74.14 L5.00,74.14 Q-8.00,74.14 -8.00,61.14 L-8.00,7.54 Q-8.00,-8.46 8.00,-8.46 Z" fill="#6b65b3"/><path d="M7.00,-9.51 L53.00,-9.51 Q65.00,-9.51 65.00,2.49 L65.00,66.09 Q65.00,73.09 58.00,73.09 L4.00,73.09 Q-9.00,73.09 -9.00,60.09 L-9.00,6.49 Q-9.00,-9.51 7.00,-9.51 Z" fill="#6b65b3"/><path d="M6.00,-10.57 L52.00,-10.57 Q64.00,-10.57 64.00,1.43 L64.00,65.03 Q64.00,72.03 57.00,72.03 L3.00,72.03 Q-10.00,72.03 -10.00,59.03 L-10.00,5.43 Q-10.00,-10.57 6.00,-10.57 Z" fill="#6b65b3"/><path d="M16.00,0.00 L62.00,0.00 Q74.00,0.00 74.00,12.00 L74.00,75.60 Q74.00,82.60 67.00,82.60 L13.00,82.60 Q0.00,82.60 0.00,69.60 L0.00,16.00 Q0.00,0.00 16.00,0.00 Z" fill="url(#face)"/><path d="M16.60,0.60 L61.40,0.60 Q73.40,0.60 73.40,12.60 L73.40,75.00 Q73.40,82.00 66.40,82.00 L13.60,82.00 Q0.60,82.00 0.60,69.00 L0.60,16.60 Q0.60,0.60 16.60,0.60 Z" fill="none" stroke="#c9c5fb" stroke-opacity=".6" stroke-width="1.2"/></g><ellipse cx="956.6" cy="761.9" rx="2.6" ry="3" fill="#f7a8a6" transform="rotate(20 956.6 761.9)"/><ellipse cx="969.5" cy="754.5" rx="2.6" ry="3" fill="#f4f3fb" transform="rotate(20 969.5 754.5)"/><ellipse cx="982.4" cy="747.1" rx="2.6" ry="3" fill="#f4f3fb" transform="rotate(20 982.4 747.1)"/><ellipse cx="995.3" cy="739.7" rx="2.6" ry="3" fill="#f4f3fb" transform="rotate(20 995.3 739.7)"/><line x1="932.2" y1="750" x2="932.2" y2="785" stroke="#b9b4f6" stroke-width="2" stroke-linecap="round"/>
<g transform="matrix(1,-0.557,0,1,541,959.4)"><path d="M16.00,0.00 L62.00,0.00 Q74.00,0.00 74.00,12.00 L74.00,75.60 Q74.00,82.60 67.00,82.60 L13.00,82.60 Q0.00,82.60 0.00,69.60 L0.00,16.00 Q0.00,0.00 16.00,0.00 Z" fill="#6b65b3"/><path d="M15.00,-1.06 L61.00,-1.06 Q73.00,-1.06 73.00,10.94 L73.00,74.54 Q73.00,81.54 66.00,81.54 L12.00,81.54 Q-1.00,81.54 -1.00,68.54 L-1.00,14.94 Q-1.00,-1.06 15.00,-1.06 Z" fill="#6b65b3"/><path d="M14.00,-2.11 L60.00,-2.11 Q72.00,-2.11 72.00,9.89 L72.00,73.49 Q72.00,80.49 65.00,80.49 L11.00,80.49 Q-2.00,80.49 -2.00,67.49 L-2.00,13.89 Q-2.00,-2.11 14.00,-2.11 Z" fill="#6b65b3"/><path d="M13.00,-3.17 L59.00,-3.17 Q71.00,-3.17 71.00,8.83 L71.00,72.43 Q71.00,79.43 64.00,79.43 L10.00,79.43 Q-3.00,79.43 -3.00,66.43 L-3.00,12.83 Q-3.00,-3.17 13.00,-3.17 Z" fill="#6b65b3"/><path d="M12.00,-4.23 L58.00,-4.23 Q70.00,-4.23 70.00,7.77 L70.00,71.37 Q70.00,78.37 63.00,78.37 L9.00,78.37 Q-4.00,78.37 -4.00,65.37 L-4.00,11.77 Q-4.00,-4.23 12.00,-4.23 Z" fill="#6b65b3"/><path d="M11.00,-5.29 L57.00,-5.29 Q69.00,-5.29 69.00,6.71 L69.00,70.31 Q69.00,77.31 62.00,77.31 L8.00,77.31 Q-5.00,77.31 -5.00,64.31 L-5.00,10.71 Q-5.00,-5.29 11.00,-5.29 Z" fill="#6b65b3"/><path d="M10.00,-6.34 L56.00,-6.34 Q68.00,-6.34 68.00,5.66 L68.00,69.26 Q68.00,76.26 61.00,76.26 L7.00,76.26 Q-6.00,76.26 -6.00,63.26 L-6.00,9.66 Q-6.00,-6.34 10.00,-6.34 Z" fill="#6b65b3"/><path d="M9.00,-7.40 L55.00,-7.40 Q67.00,-7.40 67.00,4.60 L67.00,68.20 Q67.00,75.20 60.00,75.20 L6.00,75.20 Q-7.00,75.20 -7.00,62.20 L-7.00,8.60 Q-7.00,-7.40 9.00,-7.40 Z" fill="#6b65b3"/><path d="M8.00,-8.46 L54.00,-8.46 Q66.00,-8.46 66.00,3.54 L66.00,67.14 Q66.00,74.14 59.00,74.14 L5.00,74.14 Q-8.00,74.14 -8.00,61.14 L-8.00,7.54 Q-8.00,-8.46 8.00,-8.46 Z" fill="#6b65b3"/><path d="M7.00,-9.51 L53.00,-9.51 Q65.00,-9.51 65.00,2.49 L65.00,66.09 Q65.00,73.09 58.00,73.09 L4.00,73.09 Q-9.00,73.09 -9.00,60.09 L-9.00,6.49 Q-9.00,-9.51 7.00,-9.51 Z" fill="#6b65b3"/><path d="M6.00,-10.57 L52.00,-10.57 Q64.00,-10.57 64.00,1.43 L64.00,65.03 Q64.00,72.03 57.00,72.03 L3.00,72.03 Q-10.00,72.03 -10.00,59.03 L-10.00,5.43 Q-10.00,-10.57 6.00,-10.57 Z" fill="#6b65b3"/><path d="M16.00,0.00 L62.00,0.00 Q74.00,0.00 74.00,12.00 L74.00,75.60 Q74.00,82.60 67.00,82.60 L13.00,82.60 Q0.00,82.60 0.00,69.60 L0.00,16.00 Q0.00,0.00 16.00,0.00 Z" fill="url(#face)"/><path d="M16.60,0.60 L61.40,0.60 Q73.40,0.60 73.40,12.60 L73.40,75.00 Q73.40,82.00 66.40,82.00 L13.60,82.00 Q0.60,82.00 0.60,69.00 L0.60,16.60 Q0.60,0.60 16.60,0.60 Z" fill="none" stroke="#c9c5fb" stroke-opacity=".6" stroke-width="1.2"/></g><ellipse cx="560.6" cy="991.9" rx="2.6" ry="3" fill="#f7a8a6" transform="rotate(20 560.6 991.9)"/><ellipse cx="573.5" cy="984.5" rx="2.6" ry="3" fill="#f4f3fb" transform="rotate(20 573.5 984.5)"/><ellipse cx="586.4" cy="977.1" rx="2.6" ry="3" fill="#f4f3fb" transform="rotate(20 586.4 977.1)"/><ellipse cx="599.3" cy="969.7" rx="2.6" ry="3" fill="#f4f3fb" transform="rotate(20 599.3 969.7)"/><line x1="536.2" y1="980" x2="536.2" y2="1015" stroke="#b9b4f6" stroke-width="2" stroke-linecap="round"/>
<g transform="matrix(1,-0.557,0,1,1286,939.4)"><path d="M16.00,0.00 L62.00,0.00 Q74.00,0.00 74.00,12.00 L74.00,75.60 Q74.00,82.60 67.00,82.60 L13.00,82.60 Q0.00,82.60 0.00,69.60 L0.00,16.00 Q0.00,0.00 16.00,0.00 Z" fill="#6b65b3"/><path d="M15.00,-1.06 L61.00,-1.06 Q73.00,-1.06 73.00,10.94 L73.00,74.54 Q73.00,81.54 66.00,81.54 L12.00,81.54 Q-1.00,81.54 -1.00,68.54 L-1.00,14.94 Q-1.00,-1.06 15.00,-1.06 Z" fill="#6b65b3"/><path d="M14.00,-2.11 L60.00,-2.11 Q72.00,-2.11 72.00,9.89 L72.00,73.49 Q72.00,80.49 65.00,80.49 L11.00,80.49 Q-2.00,80.49 -2.00,67.49 L-2.00,13.89 Q-2.00,-2.11 14.00,-2.11 Z" fill="#6b65b3"/><path d="M13.00,-3.17 L59.00,-3.17 Q71.00,-3.17 71.00,8.83 L71.00,72.43 Q71.00,79.43 64.00,79.43 L10.00,79.43 Q-3.00,79.43 -3.00,66.43 L-3.00,12.83 Q-3.00,-3.17 13.00,-3.17 Z" fill="#6b65b3"/><path d="M12.00,-4.23 L58.00,-4.23 Q70.00,-4.23 70.00,7.77 L70.00,71.37 Q70.00,78.37 63.00,78.37 L9.00,78.37 Q-4.00,78.37 -4.00,65.37 L-4.00,11.77 Q-4.00,-4.23 12.00,-4.23 Z" fill="#6b65b3"/><path d="M11.00,-5.29 L57.00,-5.29 Q69.00,-5.29 69.00,6.71 L69.00,70.31 Q69.00,77.31 62.00,77.31 L8.00,77.31 Q-5.00,77.31 -5.00,64.31 L-5.00,10.71 Q-5.00,-5.29 11.00,-5.29 Z" fill="#6b65b3"/><path d="M10.00,-6.34 L56.00,-6.34 Q68.00,-6.34 68.00,5.66 L68.00,69.26 Q68.00,76.26 61.00,76.26 L7.00,76.26 Q-6.00,76.26 -6.00,63.26 L-6.00,9.66 Q-6.00,-6.34 10.00,-6.34 Z" fill="#6b65b3"/><path d="M9.00,-7.40 L55.00,-7.40 Q67.00,-7.40 67.00,4.60 L67.00,68.20 Q67.00,75.20 60.00,75.20 L6.00,75.20 Q-7.00,75.20 -7.00,62.20 L-7.00,8.60 Q-7.00,-7.40 9.00,-7.40 Z" fill="#6b65b3"/><path d="M8.00,-8.46 L54.00,-8.46 Q66.00,-8.46 66.00,3.54 L66.00,67.14 Q66.00,74.14 59.00,74.14 L5.00,74.14 Q-8.00,74.14 -8.00,61.14 L-8.00,7.54 Q-8.00,-8.46 8.00,-8.46 Z" fill="#6b65b3"/><path d="M7.00,-9.51 L53.00,-9.51 Q65.00,-9.51 65.00,2.49 L65.00,66.09 Q65.00,73.09 58.00,73.09 L4.00,73.09 Q-9.00,73.09 -9.00,60.09 L-9.00,6.49 Q-9.00,-9.51 7.00,-9.51 Z" fill="#6b65b3"/><path d="M6.00,-10.57 L52.00,-10.57 Q64.00,-10.57 64.00,1.43 L64.00,65.03 Q64.00,72.03 57.00,72.03 L3.00,72.03 Q-10.00,72.03 -10.00,59.03 L-10.00,5.43 Q-10.00,-10.57 6.00,-10.57 Z" fill="#6b65b3"/><path d="M16.00,0.00 L62.00,0.00 Q74.00,0.00 74.00,12.00 L74.00,75.60 Q74.00,82.60 67.00,82.60 L13.00,82.60 Q0.00,82.60 0.00,69.60 L0.00,16.00 Q0.00,0.00 16.00,0.00 Z" fill="url(#face)"/><path d="M16.60,0.60 L61.40,0.60 Q73.40,0.60 73.40,12.60 L73.40,75.00 Q73.40,82.00 66.40,82.00 L13.60,82.00 Q0.60,82.00 0.60,69.00 L0.60,16.60 Q0.60,0.60 16.60,0.60 Z" fill="none" stroke="#c9c5fb" stroke-opacity=".6" stroke-width="1.2"/></g><ellipse cx="1305.6" cy="971.9" rx="2.6" ry="3" fill="#f7a8a6" transform="rotate(20 1305.6 971.9)"/><ellipse cx="1318.5" cy="964.5" rx="2.6" ry="3" fill="#f4f3fb" transform="rotate(20 1318.5 964.5)"/><ellipse cx="1331.4" cy="957.1" rx="2.6" ry="3" fill="#f4f3fb" transform="rotate(20 1331.4 957.1)"/><ellipse cx="1344.3" cy="949.7" rx="2.6" ry="3" fill="#f4f3fb" transform="rotate(20 1344.3 949.7)"/><line x1="1281.2" y1="960" x2="1281.2" y2="995" stroke="#b9b4f6" stroke-width="2" stroke-linecap="round"/>
<path d="M946.8,496.3 Q960.0,488.5 973.2,496.3 L1040.8,536.2 Q1054.0,544.0 1040.8,551.8 L973.2,591.7 Q960.0,599.5 946.8,591.7 L879.2,551.8 Q866.0,544.0 879.2,536.2 Z" fill="#ee6359"/>
<path d="M946.8,495.3 Q960.0,487.5 973.2,495.3 L1040.8,535.2 Q1054.0,543.0 1040.8,550.8 L973.2,590.7 Q960.0,598.5 946.8,590.7 L879.2,550.8 Q866.0,543.0 879.2,535.2 Z" fill="#ee6359"/>
<path d="M946.8,494.3 Q960.0,486.5 973.2,494.3 L1040.8,534.2 Q1054.0,542.0 1040.8,549.8 L973.2,589.7 Q960.0,597.5 946.8,589.7 L879.2,549.8 Q866.0,542.0 879.2,534.2 Z" fill="#ee6359"/>
<path d="M946.8,493.3 Q960.0,485.5 973.2,493.3 L1040.8,533.2 Q1054.0,541.0 1040.8,548.8 L973.2,588.7 Q960.0,596.5 946.8,588.7 L879.2,548.8 Q866.0,541.0 879.2,533.2 Z" fill="#ee6359"/>
<path d="M946.8,492.3 Q960.0,484.5 973.2,492.3 L1040.8,532.2 Q1054.0,540.0 1040.8,547.8 L973.2,587.7 Q960.0,595.5 946.8,587.7 L879.2,547.8 Q866.0,540.0 879.2,532.2 Z" fill="#ee6359"/>
<path d="M946.8,491.3 Q960.0,483.5 973.2,491.3 L1040.8,531.2 Q1054.0,539.0 1040.8,546.8 L973.2,586.7 Q960.0,594.5 946.8,586.7 L879.2,546.8 Q866.0,539.0 879.2,531.2 Z" fill="#ee6359"/>
<path d="M946.8,490.3 Q960.0,482.5 973.2,490.3 L1040.8,530.2 Q1054.0,538.0 1040.8,545.8 L973.2,585.7 Q960.0,593.5 946.8,585.7 L879.2,545.8 Q866.0,538.0 879.2,530.2 Z" fill="#ee6359"/>
<path d="M946.8,489.3 Q960.0,481.5 973.2,489.3 L1040.8,529.2 Q1054.0,537.0 1040.8,544.8 L973.2,584.7 Q960.0,592.5 946.8,584.7 L879.2,544.8 Q866.0,537.0 879.2,529.2 Z" fill="#ee6359"/>
<path d="M946.8,488.3 Q960.0,480.5 973.2,488.3 L1040.8,528.2 Q1054.0,536.0 1040.8,543.8 L973.2,583.7 Q960.0,591.5 946.8,583.7 L879.2,543.8 Q866.0,536.0 879.2,528.2 Z" fill="#ee6359"/>
<path d="M946.8,487.3 Q960.0,479.5 973.2,487.3 L1040.8,527.2 Q1054.0,535.0 1040.8,542.8 L973.2,582.7 Q960.0,590.5 946.8,582.7 L879.2,542.8 Q866.0,535.0 879.2,527.2 Z" fill="#ee6359"/>
<path d="M946.8,486.3 Q960.0,478.5 973.2,486.3 L1040.8,526.2 Q1054.0,534.0 1040.8,541.8 L973.2,581.7 Q960.0,589.5 946.8,581.7 L879.2,541.8 Q866.0,534.0 879.2,526.2 Z" fill="#ee6359"/>
<path d="M946.8,485.3 Q960.0,477.5 973.2,485.3 L1040.8,525.2 Q1054.0,533.0 1040.8,540.8 L973.2,580.7 Q960.0,588.5 946.8,580.7 L879.2,540.8 Q866.0,533.0 879.2,525.2 Z" fill="url(#tile)"/>
<g fill="none" stroke="#e8655b"><ellipse cx="960" cy="533.5" rx="36.5" ry="21.5" stroke-width="5.6"/><ellipse cx="950.8" cy="529.2" rx="10.5" ry="6.6" stroke-width="5"/><g clip-path="url(#iconclip)"><ellipse cx="977.5" cy="543.5" rx="17.5" ry="10.5" stroke-width="5.2" transform="rotate(-18 977.5 543.5)"/></g></g>
<g>
<polygon points="229,612.500 306,567 306,570.500 231,615" fill="#c5ccc7"/>
<polygon points="146.800,549 196,580 196,612.500 146.800,573" fill="#1d1f23"/>
<polygon points="196,578 304.100,518 304.100,551.500 196,612.500" fill="#3c3e41"/>
<path d="M146.800,552 Q146.500,543.500 153,539.800 L243,487.500 Q249,484 255.500,487.500 L299,512.500 Q304.800,516 304.100,523 L304.100,527.500 L196,588.500 L196,581 L146.800,550.500 Z" fill="#4b4d50"/>
<polygon points="196,588.500 304.100,527.500 304.100,533.500 196,594.500" fill="#b4b6b8"/>
<polygon points="211,596 292,550 292,557 211,603" fill="#1d1f22"/>
<path d="M160.500,537 L160.500,519 Q160.500,516 163,514.500 L177.300,506.900 L177.300,527.500 Z" fill="#2a2c30"/>
<path d="M221.600,503 L221.600,481 L234,474.600 Q236.900,473.500 236.900,476.500 L236.900,494.700 Z" fill="#2a2c30"/>
<polygon points="178.100,487.800 221.600,466.500 221.600,500.800 178.100,523.700" fill="#f2f2f3"/>
<polygon points="168.200,534.400 241.500,494 288.900,522.200 215.500,565" fill="#e9e9ea"/>
<polygon points="215.500,565 288.900,522.200 288.900,526.800 217.500,569.500" fill="#c9cacc"/>
<polygon points="164.500,533 239.500,491.800 241.500,494 168.200,534.400" fill="#2e3034"/>
<ellipse cx="225.500" cy="525.600" rx="9.500" ry="5.400" fill="#d0d0d5"/>
<path d="M213.500,600.500 L291.900,554.300 L304.500,563 Q306.500,564.500 304.500,566 L229.500,610.300 Q227.500,611.300 225.500,610 Z" fill="#515356"/>
<polygon points="140.700,580 148,575.700 169.700,588 169.700,601.600 163.500,605.500 140.700,592" fill="#d5dadd"/>
<polygon points="141.200,584 146,586.800 146,595 141.200,592.200" fill="#3f97c4"/>
<polygon points="146.800,587.300 152,590.300 152,598.500 146.800,595.500" fill="#c9365c"/>
<polygon points="152.800,590.800 158,593.800 158,602 152.800,599" fill="#e8b91f"/>
<polygon points="158.800,594.200 163.500,597 163.500,605.500 158.800,602.500" fill="#141414"/>
<polygon points="163.500,597 169.700,593 169.700,601.600 163.500,605.500" fill="#8c9698"/>
<polygon points="141.200,580.500 146,583.300 146,586.800 141.200,584" fill="#9fb4c4"/>
<polygon points="146.800,583.800 152,586.800 152,590.300 146.800,587.300" fill="#a9a4b4"/>
<polygon points="152.800,587.300 158,590.300 158,593.800 152.800,590.800" fill="#b9b9b4"/>
<polygon points="158.800,590.700 163.500,593.500 163.500,597 158.800,594.200" fill="#8f9497"/>
<ellipse cx="191.300" cy="562.700" rx="3.400" ry="2.500" fill="#2a2c30" stroke="#85878b" stroke-width=".9"/>
<ellipse cx="191.300" cy="562.700" rx="1.300" ry="1" fill="#b9bbbe"/>
<polygon points="170.500,550.500 175,553 175,556.500 170.500,554" fill="#2f3135"/>
<polygon points="176,553.600 180.500,556.100 180.500,559.600 176,557.100" fill="#2f3135"/>
<polygon points="181.500,556.700 186,559.200 186,562.700 181.500,560.200" fill="#2f3135"/>
<polygon points="197.500,593.500 202,591 202,593.500 197.500,596" fill="#c8b86a"/>
</g>
<g>
<polygon points="1372,903 1455,951 1540,904 1540,896 1455,943 1372,896" fill="#c6c6c7"/>
<polygon points="1367,744 1455,695 1543.500,744 1455,794" fill="#fdfdfd"/>
<polygon points="1367,744 1455.800,794 1455.800,947.500 1367,898.500" fill="#0f0f10"/>
<polygon points="1455.800,794 1543.500,744 1543.500,900 1455.800,947.500" fill="url(#cabR)"/>
<polygon points="1372.500,757 1450,800.500 1450,880.500 1372.500,837" fill="url(#drw)"/>
<polygon points="1372.500,847 1450,890.500 1450,936.500 1372.500,893" fill="url(#drw)"/>
<polygon points="1386.0,790.0 1430.0,813.0 1434.0,811.0 1434.0,820.0 1430.0,823.0 1386.0,800.0" fill="#c4c4c7"/><polygon points="1380.8,783.5 1424.6,809.9 1435.0,802.9 1435.0,805.4 1424.6,812.6 1380.8,786.0" fill="#4a4a4c"/><polygon points="1380.8,783.5 1391.3,777.6 1398.9,782.1 1396.8,785.8 1423.2,800.8 1428.0,798.0 1435.0,802.9 1424.6,809.9" fill="#6c6c6e"/><polygon points="1386.0,880.5 1430.0,903.5 1434.0,901.5 1434.0,910.5 1430.0,913.5 1386.0,890.5" fill="#c4c4c7"/><polygon points="1380.8,874.0 1424.6,900.4 1435.0,893.4 1435.0,895.9 1424.6,903.1 1380.8,876.5" fill="#4a4a4c"/><polygon points="1380.8,874.0 1391.3,868.1 1398.9,872.6 1396.8,876.3 1423.2,891.3 1428.0,888.5 1435.0,893.4 1424.6,900.4" fill="#6c6c6e"/>
<polygon points="1392.500,712 1477,760 1477,780 1392.500,731.500" fill="#4e4e50"/>
<polygon points="1404,722 1462,755 1462,766 1404,733" fill="#38383a"/>
<polygon points="1476,742 1537,715 1537,744.500 1477,779.500" fill="#232324"/>
<path d="M1392.500,715 Q1391,705 1400,700 L1446,672 Q1452,668.500 1458,672 L1537,715 L1494,740 Q1478,749 1477,764 L1477,760 Z" fill="#58585a"/>
<path d="M1392.500,715 Q1391.500,706 1400,701 L1408,696.500 L1490,741 Q1478,749 1477,764 L1477,760 Z" fill="#636365"/>
<polygon points="1438,681.500 1451,674 1521,715 1507.500,721.500" fill="#2d2d2f"/>
<polygon points="1462.500,635.600 1528.800,673.800 1518.800,715 1506.300,720.600 1451.300,682.500" fill="#727274"/>
<polygon points="1463.800,647 1518.800,678.100 1508.500,719 1453,683" fill="#7d7d7f"/>
<polygon points="1518.800,678.100 1520.300,679 1510,719.500 1508.500,719" fill="#3a3a3c"/>
<polygon points="1379.400,743.200 1408.600,726 1462.800,759.200 1433.600,775.800" fill="#6b6b6d"/>
<polygon points="1433.600,775.800 1462.800,759.200 1466,761.500 1437,778" fill="#8e8e90"/>
<polygon points="1456.300,717.500 1470,710 1500,727.500 1487.500,735.600" fill="#8c8c8e"/>
</g>
<rect x="291" y="636" width="304" height="57" rx="14" fill="#000" opacity=".065" filter="url(#sh)"/>
<rect x="282" y="612" width="322" height="71" rx="16" fill="#fff"/>
<text x="301.2" y="659" font-size="34.6" font-weight="400" fill="#0b0b0b" stroke="#0b0b0b" stroke-width="1.15" stroke-linejoin="round" letter-spacing="0.99" opacity=".999">Stationary Device</text>
<rect x="1531" y="964" width="303" height="57" rx="14" fill="#000" opacity=".065" filter="url(#sh)"/>
<rect x="1522" y="940" width="321" height="71" rx="16" fill="#fff"/>
<text x="1541.2" y="988" font-size="34.6" font-weight="400" fill="#0b0b0b" stroke="#0b0b0b" stroke-width="1.15" stroke-linejoin="round" letter-spacing="1.0" opacity=".999">Stationary Device</text>
</svg>
</body></html>
